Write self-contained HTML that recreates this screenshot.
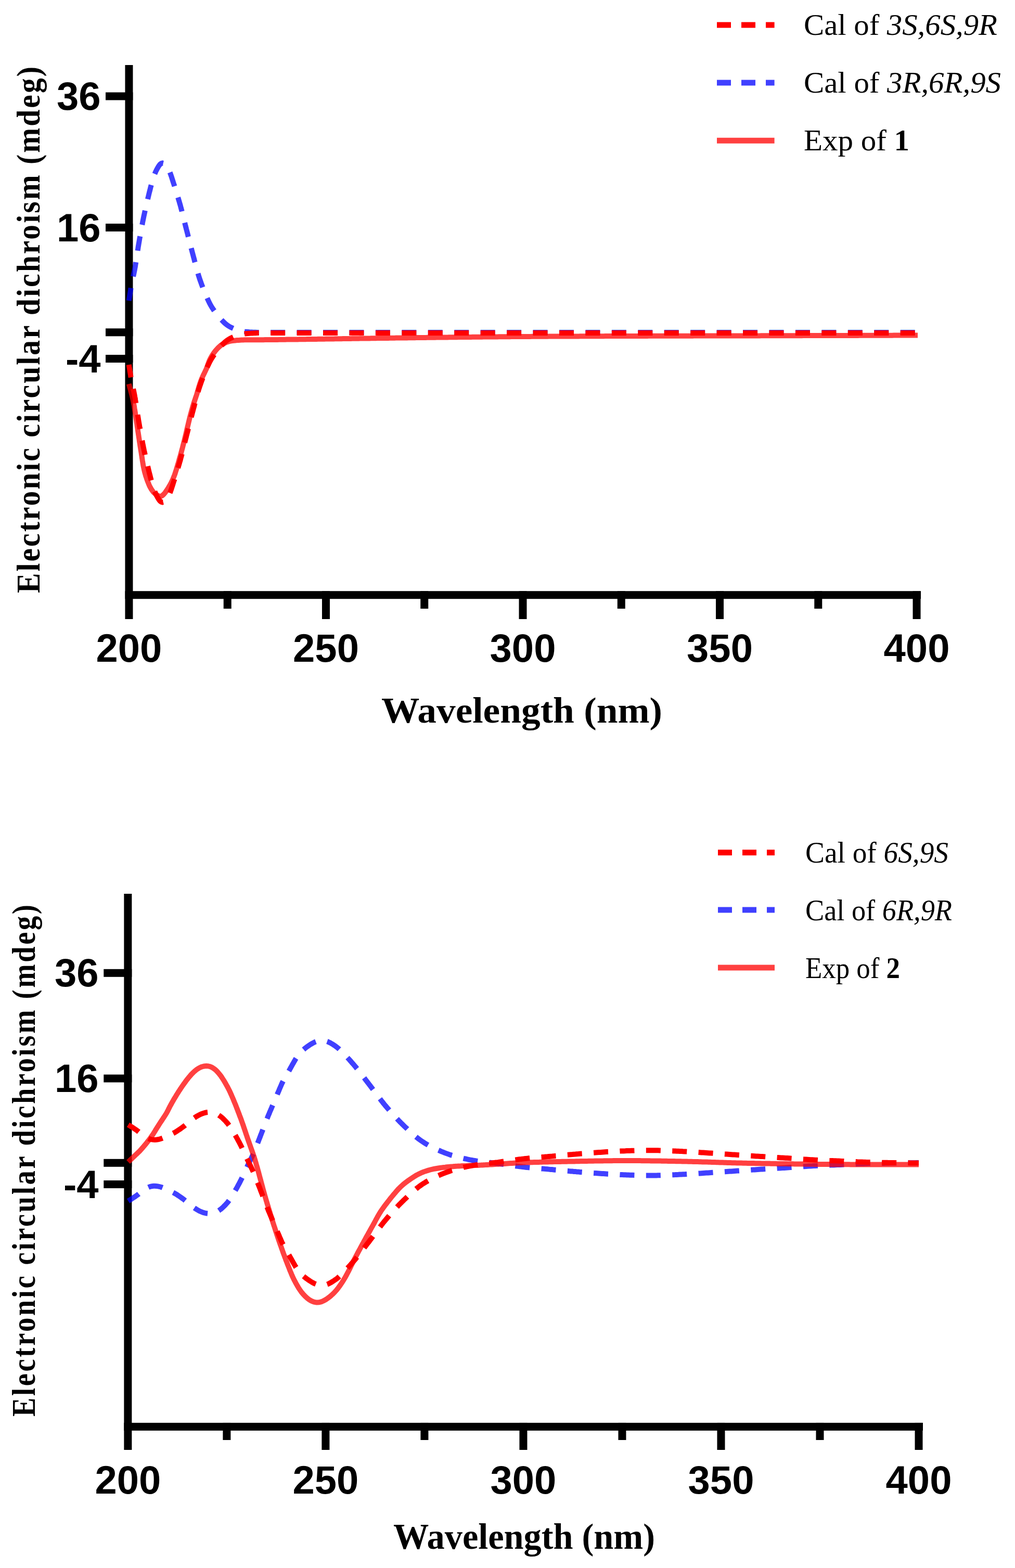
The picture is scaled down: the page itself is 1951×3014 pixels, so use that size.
<!DOCTYPE html>
<html><head><meta charset="utf-8"><title>ECD spectra</title>
<style>
html,body{margin:0;padding:0;background:#fff;}
svg{display:block;}
.tk{font-family:"Liberation Sans",Arial,sans-serif;font-weight:bold;font-size:76px;fill:#000;}
.lg{font-family:"Liberation Serif","Times New Roman",serif;font-size:56px;fill:#000;}
.xt{font-family:"Liberation Serif","Times New Roman",serif;font-weight:bold;font-size:70px;fill:#000;}
.yt{font-family:"Liberation Serif","Times New Roman",serif;font-weight:bold;font-size:64px;fill:#000;}
</style></head><body>
<svg xmlns="http://www.w3.org/2000/svg" width="1951" height="3014" viewBox="0 0 1951 3014">
<rect width="1951" height="3014" fill="#fff"/>
<rect x="240.45" y="125.00" width="15.00" height="1065.00" fill="#000"/>
<rect x="240.45" y="1136.20" width="1529.55" height="15.00" fill="#000"/>
<rect x="429.71" y="1136.20" width="15.00" height="33.80" fill="#000"/>
<rect x="618.97" y="1136.20" width="15.00" height="53.80" fill="#000"/>
<rect x="808.23" y="1136.20" width="15.00" height="33.80" fill="#000"/>
<rect x="997.49" y="1136.20" width="15.00" height="53.80" fill="#000"/>
<rect x="1186.75" y="1136.20" width="15.00" height="33.80" fill="#000"/>
<rect x="1376.01" y="1136.20" width="15.00" height="53.80" fill="#000"/>
<rect x="1565.27" y="1136.20" width="15.00" height="33.80" fill="#000"/>
<rect x="1754.53" y="1136.20" width="15.00" height="53.80" fill="#000"/>
<rect x="203.00" y="177.50" width="52.45" height="15.00" fill="#000"/>
<rect x="203.00" y="429.90" width="52.45" height="15.00" fill="#000"/>
<rect x="203.00" y="631.30" width="52.45" height="15.00" fill="#000"/>
<rect x="203.00" y="682.00" width="52.45" height="15.00" fill="#000"/>
<path id="topb" d="M247.8 578.0 L248.2 575.0 L248.7 572.1 L249.2 569.1 L249.6 566.2 L250.1 563.2 L250.6 560.2 L251.1 557.3 L251.5 554.3 L252.0 551.3 L252.6 548.4 L253.1 545.4 L253.7 542.5 L254.3 539.6 L254.9 536.6 L255.6 533.7 L256.2 530.8 L256.9 527.9 L257.5 524.9 L258.1 522.0 L258.7 519.0 L259.2 516.1 L259.8 513.1 L260.2 510.2 L260.7 507.2 L261.2 504.2 L261.7 501.3 L262.1 498.3 L262.6 495.4 L263.0 492.4 L263.5 489.4 L263.9 486.5 L264.4 483.5 L264.8 480.5 L265.3 477.6 L265.7 474.6 L266.2 471.6 L266.7 468.7 L267.2 465.7 L267.7 462.8 L268.2 459.8 L268.7 456.9 L269.3 453.9 L269.8 450.9 L270.3 448.0 L270.8 445.0 L271.4 442.1 L271.9 439.1 L272.4 436.2 L273.0 433.2 L273.6 430.3 L274.1 427.3 L274.7 424.4 L275.3 421.5 L275.9 418.5 L276.5 415.6 L277.1 412.7 L277.8 409.7 L278.4 406.8 L279.0 403.9 L279.7 400.9 L280.4 398.0 L281.0 395.1 L281.7 392.2 L282.4 389.2 L283.1 386.3 L283.8 383.4 L284.5 380.5 L285.2 377.6 L285.9 374.7 L286.6 371.7 L287.3 368.8 L288.1 365.9 L288.8 363.0 L289.5 360.1 L290.3 357.2 L291.1 354.3 L291.9 351.4 L292.7 348.5 L293.5 345.7 L294.4 342.8 L295.4 339.9 L296.3 337.1 L297.4 334.3 L298.6 331.5 L299.8 328.8 L301.2 326.1 L302.6 323.5 L304.1 320.9 L305.7 318.4 L307.5 316.0 L309.7 314.2 L312.3 313.5 L315.0 314.1 L317.4 315.8 L319.4 317.9 L321.1 320.4 L322.6 323.0 L323.9 325.7 L325.2 328.4 L326.5 331.1 L327.6 333.9 L328.6 336.7 L329.6 339.5 L330.5 342.4 L331.4 345.3 L332.3 348.1 L333.2 351.0 L334.1 353.8 L335.1 356.7 L336.0 359.5 L336.9 362.4 L337.8 365.3 L338.7 368.1 L339.6 371.0 L340.4 373.9 L341.3 376.7 L342.2 379.6 L343.0 382.5 L343.9 385.4 L344.7 388.2 L345.5 391.1 L346.4 394.0 L347.2 396.9 L347.9 399.8 L348.7 402.7 L349.5 405.6 L350.2 408.5 L350.9 411.4 L351.7 414.3 L352.4 417.2 L353.1 420.1 L353.9 423.1 L354.6 426.0 L355.3 428.9 L356.0 431.8 L356.7 434.7 L357.5 437.6 L358.2 440.5 L359.0 443.4 L359.7 446.3 L360.5 449.2 L361.2 452.1 L361.9 455.0 L362.7 457.9 L363.4 460.9 L364.2 463.8 L364.9 466.7 L365.6 469.6 L366.4 472.5 L367.1 475.4 L367.9 478.3 L368.7 481.2 L369.4 484.1 L370.2 487.0 L371.0 489.9 L371.7 492.8 L372.5 495.7 L373.3 498.6 L374.0 501.5 L374.8 504.4 L375.5 507.3 L376.3 510.2 L377.1 513.1 L377.8 516.0 L378.6 518.9 L379.4 521.8 L380.3 524.7 L381.1 527.5 L382.0 530.4 L382.9 533.3 L383.8 536.1 L384.8 539.0 L385.8 541.8 L386.8 544.6 L387.8 547.4 L388.9 550.2 L389.9 553.0 L391.0 555.8 L392.1 558.6 L393.2 561.4 L394.4 564.2 L395.6 566.9 L396.8 569.7 L398.0 572.4 L399.2 575.2 L400.5 577.9 L401.8 580.6 L403.1 583.3 L404.5 585.9 L406.0 588.5 L407.6 591.1 L409.2 593.6 L410.9 596.1 L412.6 598.5 L414.4 600.9 L416.3 603.3 L418.1 605.6 L420.0 608.0 L421.9 610.3 L423.8 612.6 L425.8 614.8 L427.9 617.0 L430.0 619.1 L432.2 621.2 L434.5 623.2 L436.8 625.0 L439.3 626.6 L441.9 628.2 L444.6 629.5 L447.3 630.8 L450.0 632.0 L452.8 633.1 L455.7 634.1 L458.5 634.9 L461.4 635.7 L464.4 636.3 L467.3 636.9 L470.3 637.4 L473.2 637.7 L476.2 638.0 L479.2 638.3 L482.2 638.4 L485.2 638.6 L488.2 638.7 L491.2 638.8 L494.2 638.9 L497.2 638.9 L500.2 638.9 L503.2 639.0 L506.2 639.0 L509.2 639.0 L512.2 639.0 L515.2 639.0 L518.2 639.0 L521.2 639.0 L524.2 639.0 L527.2 639.0 L530.2 639.0 L533.2 639.0 L536.2 639.0 L539.2 639.0 L542.2 639.0 L545.2 639.0 L548.2 639.0 L551.2 639.0 L554.2 639.0 L557.2 639.0 L560.2 639.0 L563.2 639.0 L566.2 639.0 L569.2 639.0 L572.2 639.0 L575.2 639.0 L578.2 639.0 L581.2 639.0 L584.2 639.0 L587.2 639.0 L590.2 639.0 L593.2 639.0 L596.2 639.0 L599.2 639.0 L602.2 639.0 L605.2 639.0 L608.2 639.0 L611.2 639.0 L614.2 639.0 L617.2 639.0 L620.2 639.0 L623.2 639.0 L626.2 639.0 L629.2 639.0 L632.2 639.0 L635.2 639.0 L638.2 639.0 L641.2 639.0 L644.2 639.0 L647.2 639.0 L650.2 639.0 L653.2 639.0 L656.2 639.0 L659.2 639.0 L662.2 639.0 L665.2 639.0 L668.2 639.0 L671.2 639.0 L674.2 639.0 L677.2 639.0 L680.2 639.0 L683.2 639.0 L686.2 639.0 L689.2 639.0 L692.2 639.0 L695.2 639.1 L698.2 639.1 L701.2 639.1 L704.2 639.1 L707.2 639.1 L710.2 639.1 L713.2 639.1 L716.2 639.1 L719.2 639.1 L722.2 639.1 L725.2 639.1 L728.2 639.1 L731.2 639.1 L734.2 639.1 L737.2 639.1 L740.2 639.1 L743.2 639.1 L746.2 639.1 L749.2 639.1 L752.2 639.1 L755.2 639.1 L758.2 639.1 L761.2 639.1 L764.2 639.1 L767.2 639.1 L770.2 639.1 L773.2 639.1 L776.2 639.1 L779.2 639.1 L782.2 639.1 L785.2 639.1 L788.2 639.1 L791.2 639.1 L794.2 639.1 L797.2 639.1 L800.2 639.1 L803.2 639.1 L806.1 639.1 L809.1 639.1 L812.1 639.1 L815.1 639.1 L818.1 639.1 L821.1 639.1 L824.1 639.1 L827.1 639.1 L830.1 639.1 L833.1 639.1 L836.1 639.1 L839.1 639.1 L842.1 639.1 L845.1 639.1 L848.1 639.1 L851.1 639.1 L854.1 639.1 L857.1 639.1 L860.1 639.1 L863.1 639.1 L866.1 639.1 L869.1 639.1 L872.1 639.1 L875.1 639.1 L878.1 639.1 L881.1 639.1 L884.1 639.1 L887.1 639.1 L890.1 639.1 L893.1 639.1 L896.1 639.1 L899.1 639.1 L902.1 639.1 L905.1 639.1 L908.1 639.1 L911.1 639.1 L914.1 639.1 L917.1 639.1 L920.1 639.1 L923.1 639.1 L926.1 639.1 L929.1 639.1 L932.1 639.1 L935.1 639.1 L938.1 639.1 L941.1 639.1 L944.1 639.1 L947.1 639.1 L950.1 639.1 L953.1 639.1 L956.1 639.1 L959.1 639.1 L962.1 639.1 L965.1 639.1 L968.1 639.1 L971.1 639.1 L974.1 639.1 L977.1 639.1 L980.1 639.1 L983.1 639.1 L986.1 639.1 L989.1 639.1 L992.1 639.1 L995.1 639.1 L998.1 639.1 L1001.1 639.1 L1004.1 639.1 L1007.1 639.1 L1010.1 639.1 L1013.1 639.1 L1016.1 639.1 L1019.1 639.1 L1022.1 639.1 L1025.1 639.1 L1028.1 639.1 L1031.1 639.1 L1034.1 639.1 L1037.1 639.1 L1040.1 639.1 L1043.1 639.1 L1046.1 639.1 L1049.1 639.1 L1052.1 639.1 L1055.1 639.1 L1058.1 639.1 L1061.1 639.1 L1064.1 639.1 L1067.1 639.1 L1070.1 639.1 L1073.1 639.1 L1076.1 639.1 L1079.1 639.1 L1082.1 639.1 L1085.1 639.1 L1088.1 639.1 L1091.1 639.1 L1094.1 639.1 L1097.1 639.1 L1100.1 639.1 L1103.1 639.1 L1106.1 639.1 L1109.1 639.1 L1112.1 639.1 L1115.1 639.1 L1118.1 639.1 L1121.1 639.1 L1124.1 639.1 L1127.1 639.1 L1130.1 639.1 L1133.1 639.1 L1136.1 639.1 L1139.1 639.1 L1142.1 639.1 L1145.1 639.1 L1148.1 639.1 L1151.1 639.1 L1154.1 639.1 L1157.1 639.1 L1160.1 639.1 L1163.1 639.1 L1166.1 639.1 L1169.1 639.1 L1172.1 639.1 L1175.1 639.1 L1178.1 639.1 L1181.1 639.1 L1184.1 639.1 L1187.1 639.1 L1190.1 639.1 L1193.1 639.1 L1196.1 639.1 L1199.1 639.1 L1202.1 639.1 L1205.1 639.1 L1208.1 639.1 L1211.1 639.1 L1214.1 639.1 L1217.1 639.1 L1220.1 639.1 L1223.1 639.1 L1226.1 639.1 L1229.1 639.1 L1232.1 639.1 L1235.1 639.1 L1238.1 639.0 L1241.1 639.0 L1244.1 639.0 L1247.1 639.0 L1250.1 639.0 L1253.1 639.0 L1256.1 639.0 L1259.1 639.0 L1262.1 639.0 L1265.1 639.0 L1268.1 639.0 L1271.1 639.0 L1274.1 639.0 L1277.1 639.0 L1280.1 639.0 L1283.1 639.0 L1286.1 639.0 L1289.1 639.0 L1292.1 639.0 L1295.1 639.0 L1298.1 639.0 L1301.1 639.0 L1304.1 639.0 L1307.1 639.0 L1310.1 639.0 L1313.1 639.0 L1316.1 639.0 L1319.1 639.0 L1322.1 639.0 L1325.1 639.0 L1328.1 639.0 L1331.1 639.0 L1334.1 639.0 L1337.1 639.0 L1340.1 639.0 L1343.1 639.0 L1346.1 639.0 L1349.1 639.0 L1352.1 639.0 L1355.1 639.0 L1358.1 639.0 L1361.1 639.0 L1364.1 639.0 L1367.1 639.0 L1370.1 639.0 L1373.1 639.0 L1376.1 639.0 L1379.1 639.0 L1382.1 639.0 L1385.1 639.0 L1388.1 639.0 L1391.1 639.0 L1394.1 639.0 L1397.1 639.0 L1400.1 639.0 L1403.1 639.0 L1406.1 639.0 L1409.1 639.0 L1412.1 639.0 L1415.1 639.0 L1418.1 639.0 L1421.1 639.0 L1424.1 639.0 L1427.1 639.0 L1430.1 639.0 L1433.1 639.0 L1436.1 639.0 L1439.1 639.0 L1442.1 639.0 L1445.0 639.0 L1448.0 639.0 L1451.0 639.0 L1454.0 639.0 L1457.0 639.0 L1460.0 639.0 L1463.0 639.0 L1466.0 639.0 L1469.0 639.0 L1472.0 639.0 L1475.0 639.0 L1478.0 639.0 L1481.0 639.0 L1484.0 639.0 L1487.0 639.0 L1490.0 639.0 L1493.0 639.0 L1496.0 639.0 L1499.0 639.0 L1502.0 639.0 L1505.0 639.0 L1508.0 639.0 L1511.0 639.0 L1514.0 639.0 L1517.0 639.0 L1520.0 639.0 L1523.0 639.0 L1526.0 639.0 L1529.0 639.0 L1532.0 639.0 L1535.0 639.0 L1538.0 639.0 L1541.0 639.0 L1544.0 639.0 L1547.0 639.0 L1550.0 639.0 L1553.0 639.0 L1556.0 639.0 L1559.0 639.0 L1562.0 639.0 L1565.0 639.0 L1568.0 639.0 L1571.0 639.0 L1574.0 639.0 L1577.0 639.0 L1580.0 639.0 L1583.0 639.0 L1586.0 639.0 L1589.0 639.0 L1592.0 639.0 L1595.0 639.0 L1598.0 639.0 L1601.0 639.0 L1604.0 639.0 L1607.0 639.0 L1610.0 639.0 L1613.0 639.0 L1616.0 639.0 L1619.0 639.0 L1622.0 639.0 L1625.0 639.0 L1628.0 639.0 L1631.0 639.0 L1634.0 639.0 L1637.0 639.0 L1640.0 639.0 L1643.0 639.0 L1646.0 639.0 L1649.0 639.0 L1652.0 639.0 L1655.0 639.0 L1658.0 639.0 L1661.0 639.0 L1664.0 639.0 L1667.0 639.0 L1670.0 639.0 L1673.0 639.0 L1676.0 639.0 L1679.0 639.0 L1682.0 639.0 L1685.0 639.0 L1688.0 639.0 L1691.0 639.0 L1694.0 639.0 L1697.0 639.0 L1700.0 639.0 L1703.0 639.0 L1706.0 639.0 L1709.0 639.0 L1712.0 639.0 L1715.0 639.0 L1718.0 639.0 L1721.0 639.0 L1724.0 639.0 L1727.0 639.0 L1730.0 639.0 L1733.0 639.0 L1736.0 639.0 L1739.0 639.0 L1742.0 639.0 L1745.0 639.0 L1748.0 639.0 L1751.0 639.0 L1754.0 639.0 L1757.0 639.0 L1760.0 639.0 L1762.0 639.0" fill="none" stroke="#0000ff" stroke-opacity="0.75" stroke-width="10" stroke-dasharray="28 22.44" stroke-dashoffset="3.2"/>
<path id="topr" d="M247.8 701.0 L248.2 704.0 L248.7 706.9 L249.2 709.9 L249.6 712.8 L250.1 715.8 L250.6 718.8 L251.1 721.7 L251.5 724.7 L252.0 727.7 L252.6 730.6 L253.1 733.6 L253.7 736.5 L254.3 739.4 L254.9 742.4 L255.6 745.3 L256.2 748.2 L256.9 751.1 L257.5 754.1 L258.1 757.0 L258.7 760.0 L259.2 762.9 L259.8 765.9 L260.2 768.8 L260.7 771.8 L261.2 774.8 L261.7 777.7 L262.1 780.7 L262.6 783.6 L263.0 786.6 L263.5 789.6 L263.9 792.5 L264.4 795.5 L264.8 798.5 L265.3 801.4 L265.7 804.4 L266.2 807.4 L266.7 810.3 L267.2 813.3 L267.7 816.2 L268.2 819.2 L268.7 822.1 L269.3 825.1 L269.8 828.1 L270.3 831.0 L270.8 834.0 L271.4 836.9 L271.9 839.9 L272.4 842.8 L273.0 845.8 L273.6 848.7 L274.1 851.7 L274.7 854.6 L275.3 857.5 L275.9 860.5 L276.5 863.4 L277.1 866.3 L277.8 869.3 L278.4 872.2 L279.0 875.1 L279.7 878.1 L280.4 881.0 L281.0 883.9 L281.7 886.8 L282.4 889.8 L283.1 892.7 L283.8 895.6 L284.5 898.5 L285.2 901.4 L285.9 904.3 L286.6 907.3 L287.3 910.2 L288.1 913.1 L288.8 916.0 L289.5 918.9 L290.3 921.8 L291.1 924.7 L291.9 927.6 L292.7 930.5 L293.5 933.3 L294.4 936.2 L295.4 939.1 L296.3 941.9 L297.4 944.7 L298.6 947.5 L299.8 950.2 L301.2 952.9 L302.6 955.5 L304.1 958.1 L305.7 960.6 L307.5 963.0 L309.7 964.8 L312.3 965.5 L315.0 964.9 L317.4 963.2 L319.4 961.1 L321.1 958.6 L322.6 956.0 L323.9 953.3 L325.2 950.6 L326.5 947.9 L327.6 945.1 L328.6 942.3 L329.6 939.5 L330.5 936.6 L331.4 933.7 L332.3 930.9 L333.2 928.0 L334.1 925.2 L335.1 922.3 L336.0 919.5 L336.9 916.6 L337.8 913.7 L338.7 910.9 L339.6 908.0 L340.4 905.1 L341.3 902.3 L342.2 899.4 L343.0 896.5 L343.9 893.6 L344.7 890.8 L345.5 887.9 L346.4 885.0 L347.2 882.1 L347.9 879.2 L348.7 876.3 L349.5 873.4 L350.2 870.5 L350.9 867.6 L351.7 864.7 L352.4 861.8 L353.1 858.9 L353.9 855.9 L354.6 853.0 L355.3 850.1 L356.0 847.2 L356.7 844.3 L357.5 841.4 L358.2 838.5 L359.0 835.6 L359.7 832.7 L360.5 829.8 L361.2 826.9 L361.9 824.0 L362.7 821.1 L363.4 818.1 L364.2 815.2 L364.9 812.3 L365.6 809.4 L366.4 806.5 L367.1 803.6 L367.9 800.7 L368.7 797.8 L369.4 794.9 L370.2 792.0 L371.0 789.1 L371.7 786.2 L372.5 783.3 L373.3 780.4 L374.0 777.5 L374.8 774.6 L375.5 771.7 L376.3 768.8 L377.1 765.9 L377.8 763.0 L378.6 760.1 L379.4 757.2 L380.3 754.3 L381.1 751.5 L382.0 748.6 L382.9 745.7 L383.8 742.9 L384.8 740.0 L385.8 737.2 L386.8 734.4 L387.8 731.6 L388.9 728.8 L389.9 726.0 L391.0 723.2 L392.1 720.4 L393.2 717.6 L394.4 714.8 L395.6 712.1 L396.8 709.3 L398.0 706.6 L399.2 703.8 L400.5 701.1 L401.8 698.4 L403.1 695.7 L404.5 693.1 L406.0 690.5 L407.6 687.9 L409.2 685.4 L410.9 682.9 L412.6 680.5 L414.4 678.1 L416.3 675.7 L418.1 673.4 L420.0 671.0 L421.9 668.7 L423.8 666.4 L425.8 664.2 L427.9 662.0 L430.0 659.9 L432.2 657.8 L434.5 655.8 L436.8 654.0 L439.3 652.4 L441.9 650.8 L444.6 649.5 L447.3 648.2 L450.0 647.0 L452.8 645.9 L455.7 644.9 L458.5 644.1 L461.4 643.3 L464.4 642.7 L467.3 642.1 L470.3 641.6 L473.2 641.3 L476.2 641.0 L479.2 640.7 L482.2 640.6 L485.2 640.4 L488.2 640.3 L491.2 640.2 L494.2 640.1 L497.2 640.1 L500.2 640.1 L503.2 640.0 L506.2 640.0 L509.2 640.0 L512.2 640.0 L515.2 640.0 L518.2 640.0 L521.2 640.0 L524.2 640.0 L527.2 640.0 L530.2 640.0 L533.2 640.0 L536.2 640.0 L539.2 640.0 L542.2 640.0 L545.2 640.0 L548.2 640.0 L551.2 640.0 L554.2 640.0 L557.2 640.0 L560.2 640.0 L563.2 640.0 L566.2 640.0 L569.2 640.0 L572.2 640.0 L575.2 640.0 L578.2 640.0 L581.2 640.0 L584.2 640.0 L587.2 640.0 L590.2 640.0 L593.2 640.0 L596.2 640.0 L599.2 640.0 L602.2 640.0 L605.2 640.0 L608.2 640.0 L611.2 640.0 L614.2 640.0 L617.2 640.0 L620.2 640.0 L623.2 640.0 L626.2 640.0 L629.2 640.0 L632.2 640.0 L635.2 640.0 L638.2 640.0 L641.2 640.0 L644.2 640.0 L647.2 640.0 L650.2 640.0 L653.2 640.0 L656.2 640.0 L659.2 640.0 L662.2 640.0 L665.2 640.0 L668.2 640.0 L671.2 640.0 L674.2 640.0 L677.2 640.0 L680.2 640.0 L683.2 640.0 L686.2 640.0 L689.2 640.0 L692.2 640.0 L695.2 639.9 L698.2 639.9 L701.2 639.9 L704.2 639.9 L707.2 639.9 L710.2 639.9 L713.2 639.9 L716.2 639.9 L719.2 639.9 L722.2 639.9 L725.2 639.9 L728.2 639.9 L731.2 639.9 L734.2 639.9 L737.2 639.9 L740.2 639.9 L743.2 639.9 L746.2 639.9 L749.2 639.9 L752.2 639.9 L755.2 639.9 L758.2 639.9 L761.2 639.9 L764.2 639.9 L767.2 639.9 L770.2 639.9 L773.2 639.9 L776.2 639.9 L779.2 639.9 L782.2 639.9 L785.2 639.9 L788.2 639.9 L791.2 639.9 L794.2 639.9 L797.2 639.9 L800.2 639.9 L803.2 639.9 L806.1 639.9 L809.1 639.9 L812.1 639.9 L815.1 639.9 L818.1 639.9 L821.1 639.9 L824.1 639.9 L827.1 639.9 L830.1 639.9 L833.1 639.9 L836.1 639.9 L839.1 639.9 L842.1 639.9 L845.1 639.9 L848.1 639.9 L851.1 639.9 L854.1 639.9 L857.1 639.9 L860.1 639.9 L863.1 639.9 L866.1 639.9 L869.1 639.9 L872.1 639.9 L875.1 639.9 L878.1 639.9 L881.1 639.9 L884.1 639.9 L887.1 639.9 L890.1 639.9 L893.1 639.9 L896.1 639.9 L899.1 639.9 L902.1 639.9 L905.1 639.9 L908.1 639.9 L911.1 639.9 L914.1 639.9 L917.1 639.9 L920.1 639.9 L923.1 639.9 L926.1 639.9 L929.1 639.9 L932.1 639.9 L935.1 639.9 L938.1 639.9 L941.1 639.9 L944.1 639.9 L947.1 639.9 L950.1 639.9 L953.1 639.9 L956.1 639.9 L959.1 639.9 L962.1 639.9 L965.1 639.9 L968.1 639.9 L971.1 639.9 L974.1 639.9 L977.1 639.9 L980.1 639.9 L983.1 639.9 L986.1 639.9 L989.1 639.9 L992.1 639.9 L995.1 639.9 L998.1 639.9 L1001.1 639.9 L1004.1 639.9 L1007.1 639.9 L1010.1 639.9 L1013.1 639.9 L1016.1 639.9 L1019.1 639.9 L1022.1 639.9 L1025.1 639.9 L1028.1 639.9 L1031.1 639.9 L1034.1 639.9 L1037.1 639.9 L1040.1 639.9 L1043.1 639.9 L1046.1 639.9 L1049.1 639.9 L1052.1 639.9 L1055.1 639.9 L1058.1 639.9 L1061.1 639.9 L1064.1 639.9 L1067.1 639.9 L1070.1 639.9 L1073.1 639.9 L1076.1 639.9 L1079.1 639.9 L1082.1 639.9 L1085.1 639.9 L1088.1 639.9 L1091.1 639.9 L1094.1 639.9 L1097.1 639.9 L1100.1 639.9 L1103.1 639.9 L1106.1 639.9 L1109.1 639.9 L1112.1 639.9 L1115.1 639.9 L1118.1 639.9 L1121.1 639.9 L1124.1 639.9 L1127.1 639.9 L1130.1 639.9 L1133.1 639.9 L1136.1 639.9 L1139.1 639.9 L1142.1 639.9 L1145.1 639.9 L1148.1 639.9 L1151.1 639.9 L1154.1 639.9 L1157.1 639.9 L1160.1 639.9 L1163.1 639.9 L1166.1 639.9 L1169.1 639.9 L1172.1 639.9 L1175.1 639.9 L1178.1 639.9 L1181.1 639.9 L1184.1 639.9 L1187.1 639.9 L1190.1 639.9 L1193.1 639.9 L1196.1 639.9 L1199.1 639.9 L1202.1 639.9 L1205.1 639.9 L1208.1 639.9 L1211.1 639.9 L1214.1 639.9 L1217.1 639.9 L1220.1 639.9 L1223.1 639.9 L1226.1 639.9 L1229.1 639.9 L1232.1 639.9 L1235.1 639.9 L1238.1 640.0 L1241.1 640.0 L1244.1 640.0 L1247.1 640.0 L1250.1 640.0 L1253.1 640.0 L1256.1 640.0 L1259.1 640.0 L1262.1 640.0 L1265.1 640.0 L1268.1 640.0 L1271.1 640.0 L1274.1 640.0 L1277.1 640.0 L1280.1 640.0 L1283.1 640.0 L1286.1 640.0 L1289.1 640.0 L1292.1 640.0 L1295.1 640.0 L1298.1 640.0 L1301.1 640.0 L1304.1 640.0 L1307.1 640.0 L1310.1 640.0 L1313.1 640.0 L1316.1 640.0 L1319.1 640.0 L1322.1 640.0 L1325.1 640.0 L1328.1 640.0 L1331.1 640.0 L1334.1 640.0 L1337.1 640.0 L1340.1 640.0 L1343.1 640.0 L1346.1 640.0 L1349.1 640.0 L1352.1 640.0 L1355.1 640.0 L1358.1 640.0 L1361.1 640.0 L1364.1 640.0 L1367.1 640.0 L1370.1 640.0 L1373.1 640.0 L1376.1 640.0 L1379.1 640.0 L1382.1 640.0 L1385.1 640.0 L1388.1 640.0 L1391.1 640.0 L1394.1 640.0 L1397.1 640.0 L1400.1 640.0 L1403.1 640.0 L1406.1 640.0 L1409.1 640.0 L1412.1 640.0 L1415.1 640.0 L1418.1 640.0 L1421.1 640.0 L1424.1 640.0 L1427.1 640.0 L1430.1 640.0 L1433.1 640.0 L1436.1 640.0 L1439.1 640.0 L1442.1 640.0 L1445.0 640.0 L1448.0 640.0 L1451.0 640.0 L1454.0 640.0 L1457.0 640.0 L1460.0 640.0 L1463.0 640.0 L1466.0 640.0 L1469.0 640.0 L1472.0 640.0 L1475.0 640.0 L1478.0 640.0 L1481.0 640.0 L1484.0 640.0 L1487.0 640.0 L1490.0 640.0 L1493.0 640.0 L1496.0 640.0 L1499.0 640.0 L1502.0 640.0 L1505.0 640.0 L1508.0 640.0 L1511.0 640.0 L1514.0 640.0 L1517.0 640.0 L1520.0 640.0 L1523.0 640.0 L1526.0 640.0 L1529.0 640.0 L1532.0 640.0 L1535.0 640.0 L1538.0 640.0 L1541.0 640.0 L1544.0 640.0 L1547.0 640.0 L1550.0 640.0 L1553.0 640.0 L1556.0 640.0 L1559.0 640.0 L1562.0 640.0 L1565.0 640.0 L1568.0 640.0 L1571.0 640.0 L1574.0 640.0 L1577.0 640.0 L1580.0 640.0 L1583.0 640.0 L1586.0 640.0 L1589.0 640.0 L1592.0 640.0 L1595.0 640.0 L1598.0 640.0 L1601.0 640.0 L1604.0 640.0 L1607.0 640.0 L1610.0 640.0 L1613.0 640.0 L1616.0 640.0 L1619.0 640.0 L1622.0 640.0 L1625.0 640.0 L1628.0 640.0 L1631.0 640.0 L1634.0 640.0 L1637.0 640.0 L1640.0 640.0 L1643.0 640.0 L1646.0 640.0 L1649.0 640.0 L1652.0 640.0 L1655.0 640.0 L1658.0 640.0 L1661.0 640.0 L1664.0 640.0 L1667.0 640.0 L1670.0 640.0 L1673.0 640.0 L1676.0 640.0 L1679.0 640.0 L1682.0 640.0 L1685.0 640.0 L1688.0 640.0 L1691.0 640.0 L1694.0 640.0 L1697.0 640.0 L1700.0 640.0 L1703.0 640.0 L1706.0 640.0 L1709.0 640.0 L1712.0 640.0 L1715.0 640.0 L1718.0 640.0 L1721.0 640.0 L1724.0 640.0 L1727.0 640.0 L1730.0 640.0 L1733.0 640.0 L1736.0 640.0 L1739.0 640.0 L1742.0 640.0 L1745.0 640.0 L1748.0 640.0 L1751.0 640.0 L1754.0 640.0 L1757.0 640.0 L1760.0 640.0 L1762.0 640.0" fill="none" stroke="#ff0000" stroke-width="10" stroke-dasharray="28 22.44" stroke-dashoffset="3.2"/>
<path id="tops" d="M247.8 738.0 L248.5 740.9 L249.3 743.8 L250.1 746.7 L250.9 749.6 L251.6 752.5 L252.4 755.4 L253.2 758.3 L253.9 761.2 L254.6 764.1 L255.3 767.0 L255.9 770.0 L256.5 772.9 L257.0 775.9 L257.6 778.8 L258.1 781.8 L258.5 784.7 L259.0 787.7 L259.5 790.6 L259.9 793.6 L260.4 796.6 L260.9 799.5 L261.3 802.5 L261.7 805.5 L262.2 808.4 L262.6 811.4 L263.1 814.4 L263.5 817.3 L263.9 820.3 L264.4 823.3 L264.8 826.2 L265.2 829.2 L265.7 832.2 L266.1 835.1 L266.6 838.1 L267.0 841.1 L267.5 844.0 L267.9 847.0 L268.3 850.0 L268.8 852.9 L269.2 855.9 L269.7 858.9 L270.2 861.8 L270.6 864.8 L271.1 867.8 L271.6 870.7 L272.0 873.7 L272.5 876.6 L272.9 879.6 L273.4 882.6 L273.8 885.5 L274.3 888.5 L274.8 891.5 L275.3 894.4 L275.9 897.4 L276.5 900.3 L277.1 903.2 L277.8 906.1 L278.6 909.1 L279.4 911.9 L280.2 914.8 L281.2 917.7 L282.1 920.5 L283.1 923.3 L284.2 926.1 L285.3 928.9 L286.4 931.7 L287.6 934.4 L289.0 937.1 L290.5 939.7 L292.1 942.2 L293.9 944.7 L295.8 946.9 L298.0 948.9 L300.4 950.7 L302.9 952.3 L305.6 953.6 L308.3 954.1 L311.0 953.3 L313.3 951.5 L315.4 949.4 L317.3 947.1 L319.0 944.6 L320.7 942.1 L322.3 939.6 L323.9 937.1 L325.4 934.5 L326.9 931.9 L328.4 929.3 L329.7 926.6 L331.0 923.9 L332.3 921.2 L333.4 918.4 L334.5 915.6 L335.6 912.8 L336.6 910.0 L337.5 907.1 L338.4 904.3 L339.3 901.4 L340.2 898.5 L341.0 895.6 L341.8 892.8 L342.7 889.9 L343.5 887.0 L344.3 884.1 L345.1 881.2 L346.0 878.3 L346.8 875.5 L347.6 872.6 L348.4 869.7 L349.1 866.8 L349.9 863.9 L350.7 861.0 L351.4 858.1 L352.2 855.2 L352.9 852.3 L353.7 849.3 L354.4 846.4 L355.1 843.5 L355.8 840.6 L356.5 837.7 L357.2 834.8 L357.9 831.9 L358.6 828.9 L359.3 826.0 L359.9 823.1 L360.6 820.2 L361.3 817.3 L362.0 814.3 L362.7 811.4 L363.4 808.5 L364.1 805.6 L364.8 802.7 L365.6 799.8 L366.3 796.9 L367.1 794.0 L367.9 791.1 L368.7 788.2 L369.5 785.3 L370.3 782.4 L371.2 779.5 L372.0 776.7 L372.9 773.8 L373.9 771.0 L374.8 768.1 L375.8 765.3 L376.7 762.4 L377.7 759.6 L378.6 756.7 L379.4 753.8 L380.3 751.0 L381.1 748.1 L381.9 745.2 L382.8 742.3 L383.7 739.5 L384.6 736.6 L385.6 733.8 L386.6 731.0 L387.7 728.2 L388.9 725.4 L390.1 722.7 L391.4 720.0 L392.7 717.3 L394.0 714.6 L395.3 711.9 L396.6 709.2 L397.7 706.4 L398.7 703.6 L399.7 700.7 L400.7 697.9 L401.7 695.1 L402.9 692.3 L404.2 689.6 L405.6 687.0 L407.1 684.4 L408.7 681.8 L410.4 679.3 L412.1 676.9 L413.9 674.5 L415.9 672.2 L417.9 670.0 L420.0 667.9 L422.2 665.8 L424.5 663.9 L426.9 662.2 L429.5 660.7 L432.2 659.3 L434.9 658.1 L437.7 657.1 L440.6 656.2 L443.5 655.6 L446.5 655.1 L449.4 654.7 L452.4 654.4 L455.4 654.1 L458.4 653.9 L461.4 653.7 L464.4 653.5 L467.4 653.4 L470.4 653.3 L473.4 653.3 L476.4 653.3 L479.4 653.3 L482.4 653.3 L485.4 653.3 L488.4 653.3 L491.4 653.3 L494.4 653.3 L497.4 653.3 L500.4 653.2 L503.4 653.2 L506.4 653.2 L509.4 653.1 L512.4 653.1 L515.4 653.1 L518.4 653.0 L521.4 653.0 L524.4 653.0 L527.4 652.9 L530.4 652.9 L533.4 652.9 L536.4 652.8 L539.4 652.8 L542.4 652.8 L545.4 652.7 L548.4 652.7 L551.4 652.6 L554.4 652.6 L557.4 652.6 L560.4 652.5 L563.3 652.5 L566.3 652.4 L569.3 652.4 L572.3 652.4 L575.3 652.3 L578.3 652.3 L581.3 652.3 L584.3 652.2 L587.3 652.2 L590.3 652.1 L593.3 652.1 L596.3 652.1 L599.3 652.0 L602.3 652.0 L605.3 651.9 L608.3 651.9 L611.3 651.8 L614.3 651.8 L617.3 651.8 L620.3 651.7 L623.3 651.7 L626.3 651.6 L629.3 651.6 L632.3 651.5 L635.3 651.5 L638.3 651.4 L641.3 651.4 L644.3 651.3 L647.3 651.3 L650.3 651.2 L653.3 651.2 L656.3 651.2 L659.3 651.1 L662.3 651.1 L665.3 651.0 L668.3 651.0 L671.3 650.9 L674.3 650.9 L677.3 650.8 L680.3 650.8 L683.3 650.7 L686.3 650.7 L689.3 650.7 L692.3 650.6 L695.3 650.6 L698.3 650.5 L701.3 650.5 L704.3 650.4 L707.3 650.4 L710.3 650.4 L713.3 650.3 L716.3 650.3 L719.3 650.2 L722.3 650.2 L725.3 650.1 L728.3 650.1 L731.3 650.1 L734.3 650.0 L737.3 650.0 L740.3 649.9 L743.3 649.9 L746.3 649.9 L749.3 649.8 L752.3 649.8 L755.3 649.7 L758.3 649.7 L761.3 649.6 L764.3 649.6 L767.3 649.6 L770.3 649.5 L773.3 649.5 L776.3 649.4 L779.3 649.4 L782.3 649.4 L785.3 649.3 L788.3 649.3 L791.3 649.2 L794.3 649.2 L797.3 649.2 L800.3 649.1 L803.3 649.1 L806.3 649.0 L809.3 649.0 L812.3 649.0 L815.3 648.9 L818.3 648.9 L821.3 648.8 L824.3 648.8 L827.3 648.8 L830.3 648.7 L833.3 648.7 L836.3 648.7 L839.3 648.6 L842.2 648.6 L845.2 648.6 L848.2 648.5 L851.2 648.5 L854.2 648.5 L857.2 648.4 L860.2 648.4 L863.2 648.3 L866.2 648.3 L869.2 648.3 L872.2 648.2 L875.2 648.2 L878.2 648.2 L881.2 648.1 L884.2 648.1 L887.2 648.1 L890.2 648.0 L893.2 648.0 L896.2 648.0 L899.2 647.9 L902.2 647.9 L905.2 647.9 L908.2 647.8 L911.2 647.8 L914.2 647.8 L917.2 647.7 L920.2 647.7 L923.2 647.7 L926.2 647.7 L929.2 647.6 L932.2 647.6 L935.2 647.6 L938.2 647.5 L941.2 647.5 L944.2 647.5 L947.2 647.4 L950.2 647.4 L953.2 647.4 L956.2 647.4 L959.2 647.3 L962.2 647.3 L965.2 647.3 L968.2 647.3 L971.2 647.2 L974.2 647.2 L977.2 647.2 L980.2 647.2 L983.2 647.1 L986.2 647.1 L989.2 647.1 L992.2 647.1 L995.2 647.0 L998.2 647.0 L1001.2 647.0 L1004.2 647.0 L1007.2 646.9 L1010.2 646.9 L1013.2 646.9 L1016.2 646.9 L1019.2 646.9 L1022.2 646.8 L1025.2 646.8 L1028.2 646.8 L1031.2 646.8 L1034.2 646.8 L1037.2 646.8 L1040.2 646.7 L1043.2 646.7 L1046.2 646.7 L1049.2 646.7 L1052.2 646.7 L1055.2 646.6 L1058.2 646.6 L1061.2 646.6 L1064.2 646.6 L1067.2 646.6 L1070.2 646.6 L1073.2 646.5 L1076.2 646.5 L1079.2 646.5 L1082.2 646.5 L1085.2 646.5 L1088.2 646.5 L1091.2 646.5 L1094.2 646.4 L1097.2 646.4 L1100.2 646.4 L1103.2 646.4 L1106.2 646.4 L1109.2 646.4 L1112.2 646.4 L1115.2 646.3 L1118.2 646.3 L1121.2 646.3 L1124.2 646.3 L1127.2 646.3 L1130.2 646.3 L1133.2 646.3 L1136.2 646.3 L1139.2 646.2 L1142.2 646.2 L1145.2 646.2 L1148.2 646.2 L1151.2 646.2 L1154.2 646.2 L1157.2 646.2 L1160.2 646.2 L1163.2 646.1 L1166.2 646.1 L1169.2 646.1 L1172.2 646.1 L1175.2 646.1 L1178.2 646.1 L1181.2 646.1 L1184.2 646.1 L1187.2 646.0 L1190.1 646.0 L1193.1 646.0 L1196.1 646.0 L1199.1 646.0 L1202.1 646.0 L1205.1 646.0 L1208.1 646.0 L1211.1 646.0 L1214.1 645.9 L1217.1 645.9 L1220.1 645.9 L1223.1 645.9 L1226.1 645.9 L1229.1 645.9 L1232.1 645.9 L1235.1 645.9 L1238.1 645.9 L1241.1 645.9 L1244.1 645.9 L1247.1 645.8 L1250.1 645.8 L1253.1 645.8 L1256.1 645.8 L1259.1 645.8 L1262.1 645.8 L1265.1 645.8 L1268.1 645.8 L1271.1 645.8 L1274.1 645.8 L1277.1 645.8 L1280.1 645.8 L1283.1 645.8 L1286.1 645.7 L1289.1 645.7 L1292.1 645.7 L1295.1 645.7 L1298.1 645.7 L1301.1 645.7 L1304.1 645.7 L1307.1 645.7 L1310.1 645.7 L1313.1 645.7 L1316.1 645.7 L1319.1 645.7 L1322.1 645.7 L1325.1 645.7 L1328.1 645.7 L1331.1 645.7 L1334.1 645.6 L1337.1 645.6 L1340.1 645.6 L1343.1 645.6 L1346.1 645.6 L1349.1 645.6 L1352.1 645.6 L1355.1 645.6 L1358.1 645.6 L1361.1 645.6 L1364.1 645.6 L1367.1 645.6 L1370.1 645.6 L1373.1 645.6 L1376.1 645.6 L1379.1 645.5 L1382.1 645.5 L1385.1 645.5 L1388.1 645.5 L1391.1 645.5 L1394.1 645.5 L1397.1 645.5 L1400.1 645.5 L1403.1 645.5 L1406.1 645.5 L1409.1 645.5 L1412.1 645.5 L1415.1 645.5 L1418.1 645.5 L1421.1 645.4 L1424.1 645.4 L1427.1 645.4 L1430.1 645.4 L1433.1 645.4 L1436.1 645.4 L1439.1 645.4 L1442.1 645.4 L1445.1 645.4 L1448.1 645.4 L1451.1 645.4 L1454.1 645.4 L1457.1 645.4 L1460.1 645.4 L1463.1 645.3 L1466.1 645.3 L1469.1 645.3 L1472.1 645.3 L1475.1 645.3 L1478.1 645.3 L1481.1 645.3 L1484.1 645.3 L1487.1 645.3 L1490.1 645.3 L1493.1 645.3 L1496.1 645.3 L1499.1 645.3 L1502.1 645.3 L1505.1 645.2 L1508.1 645.2 L1511.1 645.2 L1514.1 645.2 L1517.1 645.2 L1520.1 645.2 L1523.1 645.2 L1526.1 645.2 L1529.1 645.2 L1532.1 645.2 L1535.1 645.2 L1538.1 645.2 L1541.1 645.2 L1544.1 645.1 L1547.1 645.1 L1550.1 645.1 L1553.1 645.1 L1556.1 645.1 L1559.1 645.1 L1562.1 645.1 L1565.1 645.1 L1568.1 645.1 L1571.1 645.1 L1574.0 645.1 L1577.0 645.1 L1580.0 645.1 L1583.0 645.0 L1586.0 645.0 L1589.0 645.0 L1592.0 645.0 L1595.0 645.0 L1598.0 645.0 L1601.0 645.0 L1604.0 645.0 L1607.0 645.0 L1610.0 645.0 L1613.0 645.0 L1616.0 645.0 L1619.0 644.9 L1622.0 644.9 L1625.0 644.9 L1628.0 644.9 L1631.0 644.9 L1634.0 644.9 L1637.0 644.9 L1640.0 644.9 L1643.0 644.9 L1646.0 644.9 L1649.0 644.9 L1652.0 644.8 L1655.0 644.8 L1658.0 644.8 L1661.0 644.8 L1664.0 644.8 L1667.0 644.8 L1670.0 644.8 L1673.0 644.8 L1676.0 644.8 L1679.0 644.8 L1682.0 644.8 L1685.0 644.7 L1688.0 644.7 L1691.0 644.7 L1694.0 644.7 L1697.0 644.7 L1700.0 644.7 L1703.0 644.7 L1706.0 644.7 L1709.0 644.7 L1712.0 644.7 L1715.0 644.7 L1718.0 644.6 L1721.0 644.6 L1724.0 644.6 L1727.0 644.6 L1730.0 644.6 L1733.0 644.6 L1736.0 644.6 L1739.0 644.6 L1742.0 644.6 L1745.0 644.6 L1748.0 644.5 L1751.0 644.5 L1754.0 644.5 L1757.0 644.5 L1760.0 644.5 L1763.0 644.5 L1764.0 644.5" fill="none" stroke="#ff0000" stroke-opacity="0.75" stroke-width="10" stroke-linejoin="round"/>
<text x="247.9" y="1272.0" class="tk" text-anchor="middle">200</text>
<text x="626.5" y="1272.0" class="tk" text-anchor="middle">250</text>
<text x="1005.0" y="1272.0" class="tk" text-anchor="middle">300</text>
<text x="1383.5" y="1272.0" class="tk" text-anchor="middle">350</text>
<text x="1762.0" y="1272.0" class="tk" text-anchor="middle">400</text>
<text x="193.5" y="211.1" class="tk" text-anchor="end">36</text>
<text x="193.5" y="463.6" class="tk" text-anchor="end">16</text>
<text x="193.5" y="715.8" class="tk" text-anchor="end">-4</text>
<text transform="translate(733.0 1388.8) scale(1.000 1)" class="xt" textLength="540.0" lengthAdjust="spacingAndGlyphs">Wavelength (nm)</text>
<text transform="translate(75.7 1140.0) rotate(-90) scale(0.900 1)" class="yt" textLength="1124.4" lengthAdjust="spacing">Electronic circular dichroism (mdeg)</text>
<line x1="1378.0" y1="47.9" x2="1488.6" y2="47.9" stroke="#ff0000" stroke-width="11" stroke-dasharray="27 20"/>
<line x1="1378.0" y1="159.1" x2="1488.6" y2="159.1" stroke="#0000ff" stroke-opacity="0.75" stroke-width="11" stroke-dasharray="27 20"/>
<line x1="1378.0" y1="270.2" x2="1488.6" y2="270.2" stroke="#ff0000" stroke-opacity="0.75" stroke-width="11"/>
<text x="1545.0" y="67.3" class="lg" textLength="372.0" lengthAdjust="spacingAndGlyphs">Cal of <tspan font-style="italic">3S,6S,9R</tspan></text>
<text x="1545.0" y="178.2" class="lg" textLength="379.0" lengthAdjust="spacingAndGlyphs">Cal of <tspan font-style="italic">3R,6R,9S</tspan></text>
<text x="1545.0" y="289.2" class="lg" textLength="203.0" lengthAdjust="spacingAndGlyphs">Exp of <tspan font-weight="bold">1</tspan></text>
<rect x="238.35" y="1718.00" width="15.00" height="1069.00" fill="#000"/>
<rect x="238.35" y="2734.90" width="1535.65" height="15.00" fill="#000"/>
<rect x="428.37" y="2734.90" width="15.00" height="33.10" fill="#000"/>
<rect x="618.39" y="2734.90" width="15.00" height="52.10" fill="#000"/>
<rect x="808.41" y="2734.90" width="15.00" height="33.10" fill="#000"/>
<rect x="998.43" y="2734.90" width="15.00" height="52.10" fill="#000"/>
<rect x="1188.45" y="2734.90" width="15.00" height="33.10" fill="#000"/>
<rect x="1378.47" y="2734.90" width="15.00" height="52.10" fill="#000"/>
<rect x="1568.49" y="2734.90" width="15.00" height="33.10" fill="#000"/>
<rect x="1758.51" y="2734.90" width="15.00" height="52.10" fill="#000"/>
<rect x="199.30" y="1862.80" width="54.05" height="15.00" fill="#000"/>
<rect x="199.30" y="2065.50" width="54.05" height="15.00" fill="#000"/>
<rect x="199.30" y="2227.80" width="54.05" height="15.00" fill="#000"/>
<rect x="199.30" y="2269.00" width="54.05" height="15.00" fill="#000"/>
<path id="botb" d="M246.5 2308.6 L249.0 2307.0 L251.6 2305.4 L254.1 2303.8 L256.6 2302.2 L259.1 2300.5 L261.6 2298.8 L264.0 2297.0 L266.4 2295.2 L268.7 2293.3 L271.0 2291.4 L273.3 2289.5 L275.7 2287.7 L278.2 2286.0 L280.7 2284.4 L283.4 2283.0 L286.1 2281.8 L288.9 2280.8 L291.8 2280.2 L294.8 2279.8 L297.7 2279.7 L300.7 2279.9 L303.7 2280.3 L306.6 2281.0 L309.5 2281.8 L312.3 2282.8 L315.1 2283.9 L317.8 2285.1 L320.5 2286.4 L323.2 2287.7 L326.0 2288.9 L328.7 2290.1 L331.4 2291.4 L334.1 2292.8 L336.7 2294.3 L339.2 2295.8 L341.7 2297.5 L344.2 2299.1 L346.7 2300.8 L349.2 2302.6 L351.6 2304.3 L354.0 2306.1 L356.3 2308.0 L358.6 2309.9 L360.9 2311.8 L363.2 2313.8 L365.5 2315.7 L367.9 2317.6 L370.2 2319.4 L372.6 2321.2 L375.1 2322.9 L377.6 2324.5 L380.2 2326.0 L382.8 2327.5 L385.5 2328.7 L388.3 2329.9 L391.1 2330.9 L394.0 2331.7 L396.9 2332.3 L399.9 2332.6 L402.9 2332.6 L405.8 2332.3 L408.8 2331.8 L411.7 2331.0 L414.5 2330.1 L417.2 2328.9 L419.8 2327.5 L422.3 2325.8 L424.7 2324.0 L427.0 2322.1 L429.2 2320.0 L431.3 2317.9 L433.4 2315.8 L435.4 2313.5 L437.4 2311.3 L439.2 2308.9 L441.0 2306.5 L442.8 2304.1 L444.4 2301.6 L446.0 2299.0 L447.5 2296.5 L449.1 2293.9 L450.6 2291.3 L452.1 2288.7 L453.6 2286.1 L455.1 2283.5 L456.5 2280.9 L457.9 2278.2 L459.4 2275.6 L460.8 2272.9 L462.1 2270.3 L463.5 2267.6 L464.8 2264.9 L466.1 2262.2 L467.4 2259.5 L468.6 2256.8 L469.8 2254.0 L471.1 2251.3 L472.3 2248.5 L473.5 2245.8 L474.8 2243.1 L476.1 2240.4 L477.4 2237.7 L478.7 2235.0 L480.1 2232.3 L481.4 2229.6 L482.7 2226.9 L484.0 2224.2 L485.3 2221.5 L486.6 2218.8 L487.8 2216.1 L488.9 2213.3 L490.0 2210.5 L491.2 2207.7 L492.2 2204.9 L493.3 2202.1 L494.4 2199.3 L495.5 2196.6 L496.6 2193.8 L497.7 2191.0 L498.8 2188.2 L499.9 2185.4 L500.9 2182.6 L502.0 2179.8 L503.1 2177.0 L504.2 2174.2 L505.2 2171.4 L506.3 2168.6 L507.4 2165.8 L508.4 2163.0 L509.5 2160.2 L510.6 2157.4 L511.7 2154.6 L512.8 2151.8 L513.9 2149.0 L515.0 2146.2 L516.1 2143.4 L517.3 2140.7 L518.4 2137.9 L519.6 2135.1 L520.8 2132.4 L522.0 2129.6 L523.1 2126.9 L524.3 2124.1 L525.5 2121.3 L526.6 2118.6 L527.8 2115.8 L529.0 2113.0 L530.1 2110.3 L531.3 2107.5 L532.5 2104.8 L533.6 2102.0 L534.8 2099.2 L536.0 2096.5 L537.1 2093.7 L538.3 2090.9 L539.5 2088.2 L540.7 2085.4 L541.9 2082.7 L543.2 2080.0 L544.6 2077.3 L546.0 2074.7 L547.5 2072.1 L548.9 2069.5 L550.4 2066.9 L551.9 2064.3 L553.5 2061.7 L555.0 2059.1 L556.5 2056.5 L557.9 2053.9 L559.4 2051.3 L560.9 2048.6 L562.3 2046.0 L563.8 2043.4 L565.3 2040.8 L566.8 2038.2 L568.3 2035.6 L569.9 2033.1 L571.5 2030.5 L573.2 2028.1 L575.1 2025.7 L577.0 2023.5 L579.2 2021.4 L581.3 2019.3 L583.6 2017.4 L585.9 2015.4 L588.2 2013.6 L590.6 2011.8 L593.1 2010.1 L595.6 2008.4 L598.1 2006.8 L600.7 2005.3 L603.4 2003.9 L606.1 2002.6 L608.9 2001.5 L611.7 2000.6 L614.6 2000.1 L617.6 1999.8 L620.6 1999.9 L623.5 2000.2 L626.4 2000.9 L629.2 2001.9 L631.9 2003.2 L634.6 2004.5 L637.2 2006.0 L639.8 2007.6 L642.3 2009.2 L644.8 2010.9 L647.2 2012.6 L649.5 2014.5 L651.8 2016.5 L653.9 2018.5 L656.1 2020.7 L658.2 2022.8 L660.3 2024.9 L662.4 2027.1 L664.4 2029.2 L666.5 2031.4 L668.5 2033.6 L670.6 2035.8 L672.6 2038.1 L674.6 2040.3 L676.5 2042.6 L678.5 2044.8 L680.4 2047.1 L682.4 2049.4 L684.3 2051.7 L686.1 2054.1 L688.0 2056.4 L689.9 2058.8 L691.7 2061.1 L693.6 2063.5 L695.4 2065.9 L697.2 2068.2 L699.1 2070.6 L700.9 2073.0 L702.7 2075.4 L704.5 2077.8 L706.3 2080.2 L708.2 2082.5 L710.0 2084.9 L711.8 2087.3 L713.6 2089.7 L715.4 2092.1 L717.2 2094.5 L719.0 2096.9 L720.8 2099.3 L722.6 2101.7 L724.4 2104.1 L726.1 2106.5 L727.9 2108.9 L729.8 2111.3 L731.6 2113.7 L733.4 2116.1 L735.3 2118.4 L737.1 2120.8 L739.0 2123.1 L740.9 2125.4 L742.9 2127.7 L744.8 2130.0 L746.8 2132.3 L748.7 2134.6 L750.7 2136.8 L752.7 2139.1 L754.7 2141.3 L756.7 2143.5 L758.7 2145.7 L760.7 2148.0 L762.8 2150.1 L764.8 2152.3 L766.9 2154.5 L769.0 2156.6 L771.1 2158.7 L773.3 2160.9 L775.4 2163.0 L777.5 2165.1 L779.7 2167.1 L781.9 2169.2 L784.0 2171.3 L786.2 2173.4 L788.4 2175.4 L790.6 2177.4 L792.8 2179.4 L795.1 2181.4 L797.4 2183.4 L799.7 2185.3 L802.0 2187.1 L804.4 2189.0 L806.8 2190.8 L809.2 2192.5 L811.7 2194.2 L814.2 2195.8 L816.8 2197.4 L819.3 2199.0 L821.9 2200.5 L824.5 2202.0 L827.2 2203.4 L829.8 2204.8 L832.5 2206.1 L835.2 2207.5 L837.9 2208.7 L840.6 2210.0 L843.4 2211.2 L846.1 2212.4 L848.9 2213.6 L851.7 2214.7 L854.5 2215.8 L857.3 2216.9 L860.1 2217.9 L862.9 2218.9 L865.7 2219.9 L868.6 2220.8 L871.5 2221.6 L874.4 2222.5 L877.2 2223.3 L880.1 2224.1 L883.0 2224.8 L886.0 2225.5 L888.9 2226.2 L891.8 2226.9 L894.7 2227.5 L897.7 2228.2 L900.6 2228.8 L903.5 2229.4 L906.5 2229.9 L909.4 2230.5 L912.4 2231.0 L915.3 2231.5 L918.3 2231.9 L921.3 2232.3 L924.2 2232.7 L927.2 2233.1 L930.2 2233.4 L933.2 2233.8 L936.2 2234.1 L939.1 2234.5 L942.1 2234.8 L945.1 2235.1 L948.1 2235.5 L951.1 2235.8 L954.0 2236.2 L957.0 2236.5 L960.0 2236.9 L963.0 2237.3 L965.9 2237.8 L968.9 2238.2 L971.9 2238.6 L974.8 2239.0 L977.8 2239.4 L980.8 2239.9 L983.7 2240.3 L986.7 2240.7 L989.7 2241.1 L992.7 2241.5 L995.6 2241.9 L998.6 2242.3 L1001.6 2242.6 L1004.6 2243.0 L1007.5 2243.3 L1010.5 2243.7 L1013.5 2244.0 L1016.5 2244.3 L1019.5 2244.6 L1022.5 2244.8 L1025.4 2245.1 L1028.4 2245.4 L1031.4 2245.6 L1034.4 2245.9 L1037.4 2246.1 L1040.4 2246.4 L1043.4 2246.6 L1046.4 2246.8 L1049.4 2247.1 L1052.3 2247.3 L1055.3 2247.6 L1058.3 2247.9 L1061.3 2248.1 L1064.3 2248.4 L1067.3 2248.7 L1070.3 2248.9 L1073.3 2249.2 L1076.2 2249.5 L1079.2 2249.8 L1082.2 2250.0 L1085.2 2250.3 L1088.2 2250.6 L1091.2 2250.8 L1094.2 2251.1 L1097.2 2251.4 L1100.1 2251.6 L1103.1 2251.9 L1106.1 2252.1 L1109.1 2252.4 L1112.1 2252.6 L1115.1 2252.9 L1118.1 2253.1 L1121.1 2253.3 L1124.1 2253.6 L1127.0 2253.8 L1130.0 2254.0 L1133.0 2254.2 L1136.0 2254.5 L1139.0 2254.7 L1142.0 2254.9 L1145.0 2255.1 L1148.0 2255.3 L1151.0 2255.5 L1154.0 2255.7 L1157.0 2255.9 L1159.9 2256.1 L1162.9 2256.3 L1165.9 2256.5 L1168.9 2256.7 L1171.9 2256.8 L1174.9 2257.0 L1177.9 2257.2 L1180.9 2257.3 L1183.9 2257.5 L1186.9 2257.7 L1189.9 2257.8 L1192.9 2258.0 L1195.9 2258.1 L1198.9 2258.2 L1201.9 2258.3 L1204.9 2258.5 L1207.9 2258.6 L1210.9 2258.7 L1213.9 2258.8 L1216.9 2258.8 L1219.9 2258.9 L1222.9 2259.0 L1225.9 2259.1 L1228.9 2259.2 L1231.9 2259.2 L1234.9 2259.3 L1237.9 2259.3 L1240.8 2259.4 L1243.8 2259.4 L1246.8 2259.4 L1249.8 2259.4 L1252.8 2259.4 L1255.8 2259.4 L1258.8 2259.4 L1261.8 2259.4 L1264.8 2259.3 L1267.8 2259.2 L1270.8 2259.1 L1273.8 2259.1 L1276.8 2259.0 L1279.8 2258.8 L1282.8 2258.7 L1285.8 2258.6 L1288.8 2258.5 L1291.8 2258.3 L1294.8 2258.2 L1297.8 2258.1 L1300.8 2257.9 L1303.8 2257.8 L1306.8 2257.6 L1309.8 2257.5 L1312.8 2257.3 L1315.8 2257.2 L1318.8 2257.0 L1321.8 2256.8 L1324.8 2256.7 L1327.8 2256.5 L1330.7 2256.3 L1333.7 2256.1 L1336.7 2255.9 L1339.7 2255.8 L1342.7 2255.6 L1345.7 2255.4 L1348.7 2255.2 L1351.7 2255.0 L1354.7 2254.8 L1357.7 2254.6 L1360.7 2254.4 L1363.7 2254.2 L1366.7 2254.0 L1369.7 2253.8 L1372.6 2253.6 L1375.6 2253.4 L1378.6 2253.3 L1381.6 2253.1 L1384.6 2252.9 L1387.6 2252.6 L1390.6 2252.4 L1393.6 2252.2 L1396.6 2252.0 L1399.6 2251.8 L1402.6 2251.6 L1405.6 2251.4 L1408.6 2251.2 L1411.6 2251.0 L1414.5 2250.8 L1417.5 2250.6 L1420.5 2250.4 L1423.5 2250.2 L1426.5 2250.0 L1429.5 2249.8 L1432.5 2249.6 L1435.5 2249.4 L1438.5 2249.2 L1441.5 2249.0 L1444.5 2248.8 L1447.5 2248.6 L1450.5 2248.4 L1453.4 2248.2 L1456.4 2248.0 L1459.4 2247.8 L1462.4 2247.6 L1465.4 2247.5 L1468.4 2247.3 L1471.4 2247.1 L1474.4 2246.9 L1477.4 2246.7 L1480.4 2246.5 L1483.4 2246.3 L1486.4 2246.2 L1489.4 2246.0 L1492.4 2245.8 L1495.3 2245.6 L1498.3 2245.4 L1501.3 2245.2 L1504.3 2245.1 L1507.3 2244.9 L1510.3 2244.7 L1513.3 2244.5 L1516.3 2244.3 L1519.3 2244.1 L1522.3 2243.9 L1525.3 2243.7 L1528.3 2243.4 L1531.3 2243.2 L1534.2 2243.0 L1537.2 2242.8 L1540.2 2242.6 L1543.2 2242.4 L1546.2 2242.2 L1549.2 2242.0 L1552.2 2241.8 L1555.2 2241.6 L1558.2 2241.4 L1561.2 2241.3 L1564.2 2241.1 L1567.2 2240.9 L1570.2 2240.8 L1573.2 2240.6 L1576.2 2240.5 L1579.2 2240.4 L1582.2 2240.2 L1585.1 2240.1 L1588.1 2240.0 L1591.1 2239.9 L1594.1 2239.7 L1597.1 2239.6 L1600.1 2239.5 L1603.1 2239.4 L1606.1 2239.3 L1609.1 2239.1 L1612.1 2239.0 L1615.1 2238.9 L1618.1 2238.7 L1621.1 2238.6 L1624.1 2238.4 L1627.1 2238.3 L1630.1 2238.2 L1633.1 2238.0 L1636.1 2237.9 L1639.1 2237.7 L1642.1 2237.6 L1645.1 2237.5 L1648.1 2237.3 L1651.1 2237.2 L1654.1 2237.1 L1657.1 2237.0 L1660.1 2236.9 L1663.0 2236.8 L1666.0 2236.7 L1669.0 2236.6 L1672.0 2236.5 L1675.0 2236.4 L1678.0 2236.3 L1681.0 2236.2 L1684.0 2236.2 L1687.0 2236.1 L1690.0 2236.0 L1693.0 2236.0 L1696.0 2235.9 L1699.0 2235.9 L1702.0 2235.8 L1705.0 2235.8 L1708.0 2235.7 L1711.0 2235.6 L1714.0 2235.6 L1717.0 2235.6 L1720.0 2235.5 L1723.0 2235.5 L1726.0 2235.4 L1729.0 2235.4 L1732.0 2235.4 L1735.0 2235.3 L1738.0 2235.3 L1741.0 2235.3 L1744.0 2235.3 L1747.0 2235.3 L1750.0 2235.2 L1753.0 2235.2 L1756.0 2235.2 L1759.0 2235.2 L1762.0 2235.1 L1765.0 2235.1 L1766.0 2235.1" fill="none" stroke="#0000ff" stroke-opacity="0.75" stroke-width="10" stroke-dasharray="28 22.44" stroke-dashoffset="3.5"/>
<path id="botr" d="M246.5 2162.0 L249.0 2163.6 L251.6 2165.2 L254.1 2166.8 L256.6 2168.4 L259.1 2170.1 L261.6 2171.8 L264.0 2173.6 L266.4 2175.4 L268.7 2177.3 L271.0 2179.2 L273.3 2181.1 L275.7 2182.9 L278.2 2184.6 L280.7 2186.2 L283.4 2187.6 L286.1 2188.8 L288.9 2189.8 L291.8 2190.4 L294.8 2190.8 L297.7 2190.9 L300.7 2190.7 L303.7 2190.3 L306.6 2189.6 L309.5 2188.8 L312.3 2187.8 L315.1 2186.7 L317.8 2185.5 L320.5 2184.2 L323.2 2182.9 L326.0 2181.7 L328.7 2180.5 L331.4 2179.2 L334.1 2177.8 L336.7 2176.3 L339.2 2174.8 L341.7 2173.1 L344.2 2171.5 L346.7 2169.8 L349.2 2168.0 L351.6 2166.3 L354.0 2164.5 L356.3 2162.6 L358.6 2160.7 L360.9 2158.8 L363.2 2156.8 L365.5 2154.9 L367.9 2153.0 L370.2 2151.2 L372.6 2149.4 L375.1 2147.7 L377.6 2146.1 L380.2 2144.6 L382.8 2143.1 L385.5 2141.9 L388.3 2140.7 L391.1 2139.7 L394.0 2138.9 L396.9 2138.3 L399.9 2138.0 L402.9 2138.0 L405.8 2138.3 L408.8 2138.8 L411.7 2139.6 L414.5 2140.5 L417.2 2141.7 L419.8 2143.1 L422.3 2144.8 L424.7 2146.6 L427.0 2148.5 L429.2 2150.6 L431.3 2152.7 L433.4 2154.8 L435.4 2157.1 L437.4 2159.3 L439.2 2161.7 L441.0 2164.1 L442.8 2166.5 L444.4 2169.0 L446.0 2171.6 L447.5 2174.1 L449.1 2176.7 L450.6 2179.3 L452.1 2181.9 L453.6 2184.5 L455.1 2187.1 L456.5 2189.7 L457.9 2192.4 L459.4 2195.0 L460.8 2197.7 L462.1 2200.3 L463.5 2203.0 L464.8 2205.7 L466.1 2208.4 L467.4 2211.1 L468.6 2213.8 L469.8 2216.6 L471.1 2219.3 L472.3 2222.1 L473.5 2224.8 L474.8 2227.5 L476.1 2230.2 L477.4 2232.9 L478.7 2235.6 L480.1 2238.3 L481.4 2241.0 L482.7 2243.7 L484.0 2246.4 L485.3 2249.1 L486.6 2251.8 L487.8 2254.5 L488.9 2257.3 L490.0 2260.1 L491.2 2262.9 L492.2 2265.7 L493.3 2268.5 L494.4 2271.3 L495.5 2274.0 L496.6 2276.8 L497.7 2279.6 L498.8 2282.4 L499.9 2285.2 L500.9 2288.0 L502.0 2290.8 L503.1 2293.6 L504.2 2296.4 L505.2 2299.2 L506.3 2302.0 L507.4 2304.8 L508.4 2307.6 L509.5 2310.4 L510.6 2313.2 L511.7 2316.0 L512.8 2318.8 L513.9 2321.6 L515.0 2324.4 L516.1 2327.2 L517.3 2329.9 L518.4 2332.7 L519.6 2335.5 L520.8 2338.2 L522.0 2341.0 L523.1 2343.7 L524.3 2346.5 L525.5 2349.3 L526.6 2352.0 L527.8 2354.8 L529.0 2357.6 L530.1 2360.3 L531.3 2363.1 L532.5 2365.8 L533.6 2368.6 L534.8 2371.4 L536.0 2374.1 L537.1 2376.9 L538.3 2379.7 L539.5 2382.4 L540.7 2385.2 L541.9 2387.9 L543.2 2390.6 L544.6 2393.3 L546.0 2395.9 L547.5 2398.5 L548.9 2401.1 L550.4 2403.7 L551.9 2406.3 L553.5 2408.9 L555.0 2411.5 L556.5 2414.1 L557.9 2416.7 L559.4 2419.3 L560.9 2422.0 L562.3 2424.6 L563.8 2427.2 L565.3 2429.8 L566.8 2432.4 L568.3 2435.0 L569.9 2437.5 L571.5 2440.1 L573.2 2442.5 L575.1 2444.9 L577.0 2447.1 L579.2 2449.2 L581.3 2451.3 L583.6 2453.2 L585.9 2455.2 L588.2 2457.0 L590.6 2458.8 L593.1 2460.5 L595.6 2462.2 L598.1 2463.8 L600.7 2465.3 L603.4 2466.7 L606.1 2468.0 L608.9 2469.1 L611.7 2470.0 L614.6 2470.5 L617.6 2470.8 L620.6 2470.7 L623.5 2470.4 L626.4 2469.7 L629.2 2468.7 L631.9 2467.4 L634.6 2466.1 L637.2 2464.6 L639.8 2463.0 L642.3 2461.4 L644.8 2459.7 L647.2 2458.0 L649.5 2456.1 L651.8 2454.1 L653.9 2452.1 L656.1 2449.9 L658.2 2447.8 L660.3 2445.7 L662.4 2443.5 L664.4 2441.4 L666.5 2439.2 L668.5 2437.0 L670.6 2434.8 L672.6 2432.5 L674.6 2430.3 L676.5 2428.0 L678.5 2425.8 L680.4 2423.5 L682.4 2421.2 L684.3 2418.9 L686.1 2416.5 L688.0 2414.2 L689.9 2411.8 L691.7 2409.5 L693.6 2407.1 L695.4 2404.7 L697.2 2402.4 L699.1 2400.0 L700.9 2397.6 L702.7 2395.2 L704.5 2392.8 L706.3 2390.4 L708.2 2388.1 L710.0 2385.7 L711.8 2383.3 L713.6 2380.9 L715.4 2378.5 L717.2 2376.1 L719.0 2373.7 L720.8 2371.3 L722.6 2368.9 L724.4 2366.5 L726.1 2364.1 L727.9 2361.7 L729.8 2359.3 L731.6 2356.9 L733.4 2354.5 L735.3 2352.2 L737.1 2349.8 L739.0 2347.5 L740.9 2345.2 L742.9 2342.9 L744.8 2340.6 L746.8 2338.3 L748.7 2336.0 L750.7 2333.8 L752.7 2331.5 L754.7 2329.3 L756.7 2327.1 L758.7 2324.9 L760.7 2322.6 L762.8 2320.5 L764.8 2318.3 L766.9 2316.1 L769.0 2314.0 L771.1 2311.9 L773.3 2309.7 L775.4 2307.6 L777.5 2305.5 L779.7 2303.5 L781.9 2301.4 L784.0 2299.3 L786.2 2297.2 L788.4 2295.2 L790.6 2293.2 L792.8 2291.2 L795.1 2289.2 L797.4 2287.2 L799.7 2285.3 L802.0 2283.5 L804.4 2281.6 L806.8 2279.8 L809.2 2278.1 L811.7 2276.4 L814.2 2274.8 L816.8 2273.2 L819.3 2271.6 L821.9 2270.1 L824.5 2268.6 L827.2 2267.2 L829.8 2265.8 L832.5 2264.5 L835.2 2263.1 L837.9 2261.9 L840.6 2260.6 L843.4 2259.4 L846.1 2258.2 L848.9 2257.0 L851.7 2255.9 L854.5 2254.8 L857.3 2253.7 L860.1 2252.7 L862.9 2251.7 L865.7 2250.7 L868.6 2249.8 L871.5 2249.0 L874.4 2248.1 L877.2 2247.3 L880.1 2246.5 L883.0 2245.8 L886.0 2245.1 L888.9 2244.4 L891.8 2243.7 L894.7 2243.1 L897.7 2242.4 L900.6 2241.8 L903.5 2241.2 L906.5 2240.7 L909.4 2240.1 L912.4 2239.6 L915.3 2239.1 L918.3 2238.7 L921.3 2238.3 L924.2 2237.9 L927.2 2237.5 L930.2 2237.2 L933.2 2236.8 L936.2 2236.5 L939.1 2236.1 L942.1 2235.8 L945.1 2235.5 L948.1 2235.1 L951.1 2234.8 L954.0 2234.4 L957.0 2234.1 L960.0 2233.7 L963.0 2233.3 L965.9 2232.8 L968.9 2232.4 L971.9 2232.0 L974.8 2231.6 L977.8 2231.2 L980.8 2230.7 L983.7 2230.3 L986.7 2229.9 L989.7 2229.5 L992.7 2229.1 L995.6 2228.7 L998.6 2228.3 L1001.6 2228.0 L1004.6 2227.6 L1007.5 2227.3 L1010.5 2226.9 L1013.5 2226.6 L1016.5 2226.3 L1019.5 2226.0 L1022.5 2225.8 L1025.4 2225.5 L1028.4 2225.2 L1031.4 2225.0 L1034.4 2224.7 L1037.4 2224.5 L1040.4 2224.2 L1043.4 2224.0 L1046.4 2223.8 L1049.4 2223.5 L1052.3 2223.3 L1055.3 2223.0 L1058.3 2222.7 L1061.3 2222.5 L1064.3 2222.2 L1067.3 2221.9 L1070.3 2221.7 L1073.3 2221.4 L1076.2 2221.1 L1079.2 2220.8 L1082.2 2220.6 L1085.2 2220.3 L1088.2 2220.0 L1091.2 2219.8 L1094.2 2219.5 L1097.2 2219.2 L1100.1 2219.0 L1103.1 2218.7 L1106.1 2218.5 L1109.1 2218.2 L1112.1 2218.0 L1115.1 2217.7 L1118.1 2217.5 L1121.1 2217.3 L1124.1 2217.0 L1127.0 2216.8 L1130.0 2216.6 L1133.0 2216.4 L1136.0 2216.1 L1139.0 2215.9 L1142.0 2215.7 L1145.0 2215.5 L1148.0 2215.3 L1151.0 2215.1 L1154.0 2214.9 L1157.0 2214.7 L1159.9 2214.5 L1162.9 2214.3 L1165.9 2214.1 L1168.9 2213.9 L1171.9 2213.8 L1174.9 2213.6 L1177.9 2213.4 L1180.9 2213.3 L1183.9 2213.1 L1186.9 2212.9 L1189.9 2212.8 L1192.9 2212.6 L1195.9 2212.5 L1198.9 2212.4 L1201.9 2212.3 L1204.9 2212.1 L1207.9 2212.0 L1210.9 2211.9 L1213.9 2211.8 L1216.9 2211.8 L1219.9 2211.7 L1222.9 2211.6 L1225.9 2211.5 L1228.9 2211.4 L1231.9 2211.4 L1234.9 2211.3 L1237.9 2211.3 L1240.8 2211.2 L1243.8 2211.2 L1246.8 2211.2 L1249.8 2211.2 L1252.8 2211.2 L1255.8 2211.2 L1258.8 2211.2 L1261.8 2211.2 L1264.8 2211.3 L1267.8 2211.4 L1270.8 2211.5 L1273.8 2211.5 L1276.8 2211.6 L1279.8 2211.8 L1282.8 2211.9 L1285.8 2212.0 L1288.8 2212.1 L1291.8 2212.3 L1294.8 2212.4 L1297.8 2212.5 L1300.8 2212.7 L1303.8 2212.8 L1306.8 2213.0 L1309.8 2213.1 L1312.8 2213.3 L1315.8 2213.4 L1318.8 2213.6 L1321.8 2213.8 L1324.8 2213.9 L1327.8 2214.1 L1330.7 2214.3 L1333.7 2214.5 L1336.7 2214.7 L1339.7 2214.8 L1342.7 2215.0 L1345.7 2215.2 L1348.7 2215.4 L1351.7 2215.6 L1354.7 2215.8 L1357.7 2216.0 L1360.7 2216.2 L1363.7 2216.4 L1366.7 2216.6 L1369.7 2216.8 L1372.6 2217.0 L1375.6 2217.2 L1378.6 2217.3 L1381.6 2217.5 L1384.6 2217.7 L1387.6 2218.0 L1390.6 2218.2 L1393.6 2218.4 L1396.6 2218.6 L1399.6 2218.8 L1402.6 2219.0 L1405.6 2219.2 L1408.6 2219.4 L1411.6 2219.6 L1414.5 2219.8 L1417.5 2220.0 L1420.5 2220.2 L1423.5 2220.4 L1426.5 2220.6 L1429.5 2220.8 L1432.5 2221.0 L1435.5 2221.2 L1438.5 2221.4 L1441.5 2221.6 L1444.5 2221.8 L1447.5 2222.0 L1450.5 2222.2 L1453.4 2222.4 L1456.4 2222.6 L1459.4 2222.8 L1462.4 2223.0 L1465.4 2223.1 L1468.4 2223.3 L1471.4 2223.5 L1474.4 2223.7 L1477.4 2223.9 L1480.4 2224.1 L1483.4 2224.3 L1486.4 2224.4 L1489.4 2224.6 L1492.4 2224.8 L1495.3 2225.0 L1498.3 2225.2 L1501.3 2225.4 L1504.3 2225.5 L1507.3 2225.7 L1510.3 2225.9 L1513.3 2226.1 L1516.3 2226.3 L1519.3 2226.5 L1522.3 2226.7 L1525.3 2226.9 L1528.3 2227.2 L1531.3 2227.4 L1534.2 2227.6 L1537.2 2227.8 L1540.2 2228.0 L1543.2 2228.2 L1546.2 2228.4 L1549.2 2228.6 L1552.2 2228.8 L1555.2 2229.0 L1558.2 2229.2 L1561.2 2229.3 L1564.2 2229.5 L1567.2 2229.7 L1570.2 2229.8 L1573.2 2230.0 L1576.2 2230.1 L1579.2 2230.2 L1582.2 2230.4 L1585.1 2230.5 L1588.1 2230.6 L1591.1 2230.7 L1594.1 2230.9 L1597.1 2231.0 L1600.1 2231.1 L1603.1 2231.2 L1606.1 2231.3 L1609.1 2231.5 L1612.1 2231.6 L1615.1 2231.7 L1618.1 2231.9 L1621.1 2232.0 L1624.1 2232.2 L1627.1 2232.3 L1630.1 2232.4 L1633.1 2232.6 L1636.1 2232.7 L1639.1 2232.9 L1642.1 2233.0 L1645.1 2233.1 L1648.1 2233.3 L1651.1 2233.4 L1654.1 2233.5 L1657.1 2233.6 L1660.1 2233.7 L1663.0 2233.8 L1666.0 2233.9 L1669.0 2234.0 L1672.0 2234.1 L1675.0 2234.2 L1678.0 2234.3 L1681.0 2234.4 L1684.0 2234.4 L1687.0 2234.5 L1690.0 2234.6 L1693.0 2234.6 L1696.0 2234.7 L1699.0 2234.7 L1702.0 2234.8 L1705.0 2234.8 L1708.0 2234.9 L1711.0 2235.0 L1714.0 2235.0 L1717.0 2235.0 L1720.0 2235.1 L1723.0 2235.1 L1726.0 2235.2 L1729.0 2235.2 L1732.0 2235.2 L1735.0 2235.3 L1738.0 2235.3 L1741.0 2235.3 L1744.0 2235.3 L1747.0 2235.3 L1750.0 2235.4 L1753.0 2235.4 L1756.0 2235.4 L1759.0 2235.4 L1762.0 2235.5 L1765.0 2235.5 L1766.0 2235.5" fill="none" stroke="#ff0000" stroke-width="10" stroke-dasharray="28 22.44" stroke-dashoffset="3.5"/>
<path id="bots" d="M246.5 2233.5 L248.7 2231.4 L250.8 2229.4 L253.0 2227.3 L255.2 2225.2 L257.4 2223.1 L259.5 2221.1 L261.7 2219.0 L263.9 2217.0 L266.0 2214.9 L268.2 2212.8 L270.2 2210.6 L272.2 2208.4 L274.2 2206.1 L276.2 2203.8 L278.1 2201.5 L280.0 2199.2 L281.9 2196.9 L283.7 2194.5 L285.6 2192.2 L287.4 2189.8 L289.2 2187.4 L290.9 2184.9 L292.6 2182.5 L294.3 2180.0 L295.9 2177.4 L297.5 2174.9 L299.0 2172.3 L300.6 2169.8 L302.2 2167.2 L303.8 2164.7 L305.4 2162.1 L307.0 2159.6 L308.6 2157.1 L310.3 2154.6 L312.0 2152.1 L313.6 2149.6 L315.3 2147.1 L316.9 2144.6 L318.5 2142.1 L320.1 2139.5 L321.5 2136.9 L322.9 2134.2 L324.2 2131.6 L325.6 2128.9 L326.9 2126.2 L328.4 2123.6 L329.8 2120.9 L331.3 2118.3 L332.8 2115.7 L334.3 2113.1 L335.8 2110.6 L337.4 2108.0 L338.9 2105.4 L340.5 2102.9 L342.1 2100.3 L343.7 2097.8 L345.4 2095.3 L347.0 2092.8 L348.7 2090.3 L350.4 2087.8 L352.1 2085.4 L353.8 2082.9 L355.6 2080.5 L357.3 2078.1 L359.1 2075.7 L361.0 2073.3 L362.8 2071.0 L364.8 2068.7 L366.8 2066.4 L368.8 2064.2 L370.9 2062.1 L373.1 2060.0 L375.3 2058.1 L377.7 2056.2 L380.1 2054.5 L382.7 2052.9 L385.3 2051.6 L388.0 2050.5 L390.9 2049.7 L393.8 2049.2 L396.7 2049.0 L399.6 2049.2 L402.5 2049.8 L405.3 2050.7 L407.9 2052.0 L410.4 2053.6 L412.8 2055.3 L415.1 2057.3 L417.2 2059.4 L419.2 2061.6 L421.1 2063.9 L423.0 2066.2 L424.8 2068.6 L426.5 2071.1 L428.1 2073.6 L429.7 2076.1 L431.3 2078.7 L432.8 2081.3 L434.3 2083.9 L435.7 2086.5 L437.2 2089.1 L438.6 2091.8 L440.0 2094.5 L441.3 2097.1 L442.6 2099.9 L443.8 2102.6 L445.0 2105.3 L446.2 2108.1 L447.4 2110.8 L448.6 2113.6 L449.7 2116.4 L450.8 2119.1 L452.0 2121.9 L453.1 2124.7 L454.2 2127.5 L455.3 2130.3 L456.4 2133.1 L457.4 2135.9 L458.5 2138.7 L459.6 2141.5 L460.6 2144.3 L461.7 2147.1 L462.8 2149.9 L463.8 2152.7 L464.8 2155.6 L465.8 2158.4 L466.8 2161.2 L467.8 2164.0 L468.7 2166.9 L469.7 2169.7 L470.7 2172.6 L471.6 2175.4 L472.6 2178.3 L473.5 2181.1 L474.5 2183.9 L475.4 2186.8 L476.4 2189.6 L477.4 2192.5 L478.4 2195.3 L479.4 2198.1 L480.4 2200.9 L481.4 2203.8 L482.4 2206.6 L483.4 2209.4 L484.4 2212.2 L485.4 2215.1 L486.4 2217.9 L487.3 2220.8 L488.3 2223.6 L489.2 2226.5 L490.1 2229.3 L490.9 2232.2 L491.8 2235.1 L492.6 2238.0 L493.4 2240.8 L494.3 2243.7 L495.1 2246.6 L495.9 2249.5 L496.7 2252.4 L497.5 2255.3 L498.2 2258.2 L499.0 2261.1 L499.8 2264.0 L500.6 2266.9 L501.4 2269.8 L502.1 2272.7 L502.9 2275.6 L503.7 2278.5 L504.5 2281.4 L505.2 2284.3 L506.0 2287.1 L506.8 2290.0 L507.6 2292.9 L508.4 2295.8 L509.2 2298.7 L510.1 2301.6 L510.9 2304.5 L511.7 2307.4 L512.6 2310.2 L513.4 2313.1 L514.3 2316.0 L515.2 2318.8 L516.0 2321.7 L516.9 2324.6 L517.8 2327.5 L518.7 2330.3 L519.5 2333.2 L520.4 2336.1 L521.3 2338.9 L522.2 2341.8 L523.1 2344.6 L524.0 2347.5 L524.9 2350.4 L525.8 2353.2 L526.7 2356.1 L527.7 2358.9 L528.6 2361.8 L529.5 2364.6 L530.5 2367.5 L531.4 2370.3 L532.3 2373.2 L533.3 2376.0 L534.2 2378.9 L535.2 2381.7 L536.1 2384.6 L537.1 2387.4 L538.1 2390.2 L539.1 2393.1 L540.1 2395.9 L541.1 2398.7 L542.1 2401.6 L543.1 2404.4 L544.1 2407.2 L545.1 2410.0 L546.2 2412.8 L547.2 2415.6 L548.3 2418.4 L549.3 2421.3 L550.4 2424.1 L551.5 2426.9 L552.5 2429.7 L553.6 2432.5 L554.7 2435.2 L555.8 2438.0 L556.9 2440.8 L558.0 2443.6 L559.2 2446.4 L560.3 2449.2 L561.5 2451.9 L562.7 2454.7 L564.0 2457.4 L565.3 2460.1 L566.7 2462.7 L568.1 2465.4 L569.5 2468.0 L571.0 2470.6 L572.5 2473.2 L574.1 2475.8 L575.7 2478.3 L577.4 2480.8 L579.1 2483.2 L581.0 2485.5 L582.9 2487.8 L585.0 2490.0 L587.1 2492.2 L589.2 2494.2 L591.5 2496.1 L593.9 2497.9 L596.4 2499.5 L599.0 2500.9 L601.8 2502.0 L604.6 2502.9 L607.5 2503.4 L610.4 2503.6 L613.3 2503.3 L616.2 2502.7 L619.0 2501.7 L621.7 2500.5 L624.3 2499.1 L626.9 2497.6 L629.4 2495.9 L631.8 2494.2 L634.1 2492.3 L636.4 2490.4 L638.6 2488.4 L640.8 2486.3 L642.9 2484.2 L644.9 2482.0 L646.9 2479.7 L648.8 2477.4 L650.6 2475.0 L652.4 2472.6 L654.1 2470.1 L655.8 2467.7 L657.5 2465.2 L659.1 2462.6 L660.7 2460.1 L662.2 2457.5 L663.7 2454.9 L665.2 2452.3 L666.6 2449.7 L668.0 2447.0 L669.4 2444.4 L670.8 2441.7 L672.1 2439.0 L673.4 2436.3 L674.7 2433.6 L676.0 2430.9 L677.4 2428.2 L678.7 2425.6 L680.1 2422.9 L681.4 2420.2 L682.8 2417.5 L684.2 2414.9 L685.6 2412.2 L687.0 2409.6 L688.4 2406.9 L689.8 2404.3 L691.3 2401.7 L692.7 2399.0 L694.1 2396.4 L695.5 2393.7 L697.0 2391.1 L698.4 2388.5 L699.8 2385.8 L701.3 2383.2 L702.7 2380.6 L704.1 2377.9 L705.6 2375.3 L707.1 2372.7 L708.5 2370.1 L710.0 2367.5 L711.5 2364.8 L712.9 2362.2 L714.4 2359.6 L715.9 2357.0 L717.3 2354.4 L718.8 2351.7 L720.2 2349.1 L721.6 2346.5 L723.0 2343.8 L724.5 2341.2 L725.9 2338.6 L727.4 2336.0 L728.9 2333.4 L730.5 2330.8 L732.1 2328.3 L733.8 2325.8 L735.5 2323.4 L737.3 2320.9 L739.0 2318.5 L740.8 2316.1 L742.7 2313.7 L744.5 2311.3 L746.3 2309.0 L748.2 2306.6 L750.0 2304.2 L751.9 2301.9 L753.8 2299.6 L755.7 2297.3 L757.6 2295.0 L759.6 2292.7 L761.5 2290.4 L763.5 2288.2 L765.5 2285.9 L767.6 2283.8 L769.7 2281.6 L771.9 2279.6 L774.1 2277.6 L776.4 2275.7 L778.7 2273.8 L781.1 2272.0 L783.5 2270.2 L786.0 2268.5 L788.4 2266.7 L790.9 2265.1 L793.4 2263.4 L796.0 2261.8 L798.5 2260.2 L801.1 2258.7 L803.7 2257.3 L806.4 2256.0 L809.1 2254.7 L811.9 2253.5 L814.7 2252.4 L817.5 2251.4 L820.3 2250.5 L823.2 2249.6 L826.1 2248.8 L829.0 2248.0 L831.9 2247.3 L834.8 2246.7 L837.8 2246.2 L840.7 2245.7 L843.7 2245.2 L846.7 2244.8 L849.6 2244.4 L852.6 2244.0 L855.6 2243.7 L858.6 2243.3 L861.6 2243.0 L864.5 2242.7 L867.5 2242.4 L870.5 2242.2 L873.5 2241.9 L876.5 2241.7 L879.5 2241.6 L882.5 2241.4 L885.5 2241.3 L888.5 2241.1 L891.5 2241.0 L894.5 2240.9 L897.5 2240.7 L900.5 2240.6 L903.5 2240.5 L906.5 2240.4 L909.5 2240.3 L912.5 2240.1 L915.5 2240.0 L918.4 2239.9 L921.4 2239.7 L924.4 2239.6 L927.4 2239.4 L930.4 2239.2 L933.4 2239.1 L936.4 2238.9 L939.4 2238.7 L942.4 2238.6 L945.4 2238.4 L948.4 2238.2 L951.4 2238.0 L954.4 2237.8 L957.4 2237.7 L960.4 2237.5 L963.4 2237.3 L966.4 2237.1 L969.3 2236.9 L972.3 2236.7 L975.3 2236.5 L978.3 2236.3 L981.3 2236.1 L984.3 2235.9 L987.3 2235.7 L990.3 2235.5 L993.3 2235.4 L996.3 2235.2 L999.3 2235.0 L1002.3 2234.9 L1005.3 2234.8 L1008.3 2234.7 L1011.3 2234.6 L1014.3 2234.5 L1017.3 2234.4 L1020.3 2234.3 L1023.3 2234.2 L1026.3 2234.1 L1029.3 2234.0 L1032.3 2233.9 L1035.3 2233.9 L1038.3 2233.8 L1041.3 2233.7 L1044.3 2233.6 L1047.3 2233.6 L1050.3 2233.5 L1053.2 2233.4 L1056.2 2233.3 L1059.2 2233.3 L1062.2 2233.2 L1065.2 2233.1 L1068.2 2233.1 L1071.2 2233.0 L1074.2 2233.0 L1077.2 2232.9 L1080.2 2232.8 L1083.2 2232.8 L1086.2 2232.7 L1089.2 2232.7 L1092.2 2232.6 L1095.2 2232.5 L1098.2 2232.5 L1101.2 2232.4 L1104.2 2232.4 L1107.2 2232.3 L1110.2 2232.2 L1113.2 2232.2 L1116.2 2232.1 L1119.2 2232.1 L1122.2 2232.0 L1125.2 2231.9 L1128.2 2231.9 L1131.2 2231.8 L1134.2 2231.8 L1137.2 2231.7 L1140.2 2231.7 L1143.2 2231.6 L1146.2 2231.6 L1149.2 2231.5 L1152.2 2231.5 L1155.2 2231.4 L1158.2 2231.4 L1161.2 2231.3 L1164.2 2231.3 L1167.2 2231.3 L1170.2 2231.2 L1173.2 2231.2 L1176.2 2231.2 L1179.2 2231.1 L1182.2 2231.1 L1185.2 2231.1 L1188.2 2231.0 L1191.2 2231.0 L1194.2 2231.0 L1197.2 2231.0 L1200.2 2231.0 L1203.2 2231.0 L1206.2 2231.0 L1209.2 2231.0 L1212.2 2231.0 L1215.2 2231.0 L1218.2 2231.1 L1221.2 2231.1 L1224.2 2231.1 L1227.2 2231.1 L1230.2 2231.1 L1233.2 2231.2 L1236.2 2231.2 L1239.2 2231.2 L1242.2 2231.3 L1245.2 2231.3 L1248.2 2231.3 L1251.2 2231.4 L1254.2 2231.4 L1257.2 2231.5 L1260.2 2231.5 L1263.2 2231.5 L1266.2 2231.6 L1269.2 2231.6 L1272.2 2231.7 L1275.2 2231.7 L1278.2 2231.8 L1281.2 2231.8 L1284.2 2231.9 L1287.2 2231.9 L1290.2 2232.0 L1293.2 2232.1 L1296.2 2232.1 L1299.2 2232.2 L1302.2 2232.2 L1305.2 2232.3 L1308.2 2232.3 L1311.2 2232.4 L1314.2 2232.5 L1317.2 2232.5 L1320.2 2232.6 L1323.2 2232.7 L1326.2 2232.7 L1329.2 2232.8 L1332.2 2232.9 L1335.2 2233.0 L1338.1 2233.0 L1341.1 2233.1 L1344.1 2233.2 L1347.1 2233.3 L1350.1 2233.4 L1353.1 2233.5 L1356.1 2233.5 L1359.1 2233.6 L1362.1 2233.7 L1365.1 2233.8 L1368.1 2233.9 L1371.1 2234.0 L1374.1 2234.1 L1377.1 2234.2 L1380.1 2234.3 L1383.1 2234.4 L1386.1 2234.5 L1389.1 2234.6 L1392.1 2234.7 L1395.1 2234.8 L1398.1 2234.9 L1401.1 2235.0 L1404.1 2235.1 L1407.1 2235.2 L1410.1 2235.2 L1413.1 2235.3 L1416.1 2235.4 L1419.1 2235.5 L1422.1 2235.5 L1425.1 2235.6 L1428.1 2235.7 L1431.1 2235.8 L1434.1 2235.8 L1437.1 2235.9 L1440.1 2235.9 L1443.1 2236.0 L1446.1 2236.1 L1449.1 2236.1 L1452.1 2236.2 L1455.1 2236.2 L1458.1 2236.3 L1461.1 2236.3 L1464.1 2236.4 L1467.1 2236.4 L1470.1 2236.5 L1473.1 2236.5 L1476.1 2236.6 L1479.1 2236.6 L1482.1 2236.7 L1485.1 2236.7 L1488.1 2236.8 L1491.1 2236.8 L1494.1 2236.9 L1497.1 2236.9 L1500.1 2237.0 L1503.1 2237.0 L1506.1 2237.1 L1509.1 2237.1 L1512.1 2237.1 L1515.1 2237.2 L1518.1 2237.2 L1521.1 2237.3 L1524.1 2237.3 L1527.1 2237.4 L1530.1 2237.4 L1533.1 2237.5 L1536.1 2237.5 L1539.1 2237.5 L1542.1 2237.6 L1545.0 2237.6 L1548.0 2237.7 L1551.0 2237.7 L1554.0 2237.7 L1557.0 2237.8 L1560.0 2237.8 L1563.0 2237.8 L1566.0 2237.9 L1569.0 2237.9 L1572.0 2237.9 L1575.0 2238.0 L1578.0 2238.0 L1581.0 2238.0 L1584.0 2238.1 L1587.0 2238.1 L1590.0 2238.1 L1593.0 2238.1 L1596.0 2238.2 L1599.0 2238.2 L1602.0 2238.2 L1605.0 2238.2 L1608.0 2238.2 L1611.0 2238.3 L1614.0 2238.3 L1617.0 2238.3 L1620.0 2238.3 L1623.0 2238.3 L1626.0 2238.3 L1629.0 2238.3 L1632.0 2238.3 L1635.0 2238.4 L1638.0 2238.4 L1641.0 2238.4 L1644.0 2238.4 L1647.0 2238.4 L1650.0 2238.4 L1653.0 2238.4 L1656.0 2238.4 L1659.0 2238.4 L1662.0 2238.4 L1665.0 2238.4 L1668.0 2238.4 L1671.0 2238.4 L1674.0 2238.4 L1677.0 2238.4 L1680.0 2238.4 L1683.0 2238.4 L1686.0 2238.4 L1689.0 2238.4 L1692.0 2238.4 L1695.0 2238.4 L1698.0 2238.4 L1701.0 2238.4 L1704.0 2238.4 L1707.0 2238.4 L1710.0 2238.4 L1713.0 2238.4 L1716.0 2238.4 L1719.0 2238.4 L1722.0 2238.4 L1725.0 2238.4 L1728.0 2238.4 L1731.0 2238.4 L1734.0 2238.4 L1737.0 2238.4 L1740.0 2238.4 L1743.0 2238.4 L1746.0 2238.4 L1749.0 2238.4 L1752.0 2238.4 L1755.0 2238.4 L1758.0 2238.4 L1761.0 2238.4 L1764.0 2238.4 L1766.0 2238.4" fill="none" stroke="#ff0000" stroke-opacity="0.75" stroke-width="10" stroke-linejoin="round"/>
<text x="245.8" y="2871.0" class="tk" text-anchor="middle">200</text>
<text x="625.9" y="2871.0" class="tk" text-anchor="middle">250</text>
<text x="1005.9" y="2871.0" class="tk" text-anchor="middle">300</text>
<text x="1386.0" y="2871.0" class="tk" text-anchor="middle">350</text>
<text x="1766.0" y="2871.0" class="tk" text-anchor="middle">400</text>
<text x="189.5" y="1895.8" class="tk" text-anchor="end">36</text>
<text x="189.5" y="2098.5" class="tk" text-anchor="end">16</text>
<text x="189.5" y="2302.8" class="tk" text-anchor="end">-4</text>
<text transform="translate(756.0 2977.4) scale(1.000 1)" class="xt" textLength="503.0" lengthAdjust="spacingAndGlyphs">Wavelength (nm)</text>
<text transform="translate(67.4 2723.0) rotate(-90) scale(0.850 1)" class="yt" textLength="1157.6" lengthAdjust="spacing">Electronic circular dichroism (mdeg)</text>
<line x1="1380.0" y1="1638.8" x2="1489.0" y2="1638.8" stroke="#ff0000" stroke-width="11" stroke-dasharray="27 20"/>
<line x1="1380.0" y1="1749.0" x2="1489.0" y2="1749.0" stroke="#0000ff" stroke-opacity="0.75" stroke-width="11" stroke-dasharray="27 20"/>
<line x1="1380.0" y1="1860.0" x2="1489.0" y2="1860.0" stroke="#ff0000" stroke-opacity="0.75" stroke-width="11"/>
<text x="1548.0" y="1658.3" class="lg" textLength="275.0" lengthAdjust="spacingAndGlyphs">Cal of <tspan font-style="italic">6S,9S</tspan></text>
<text x="1548.0" y="1768.6" class="lg" textLength="282.0" lengthAdjust="spacingAndGlyphs">Cal of <tspan font-style="italic">6R,9R</tspan></text>
<text x="1548.0" y="1880.0" class="lg" textLength="182.0" lengthAdjust="spacingAndGlyphs">Exp of <tspan font-weight="bold">2</tspan></text>
</svg>
</body></html>
